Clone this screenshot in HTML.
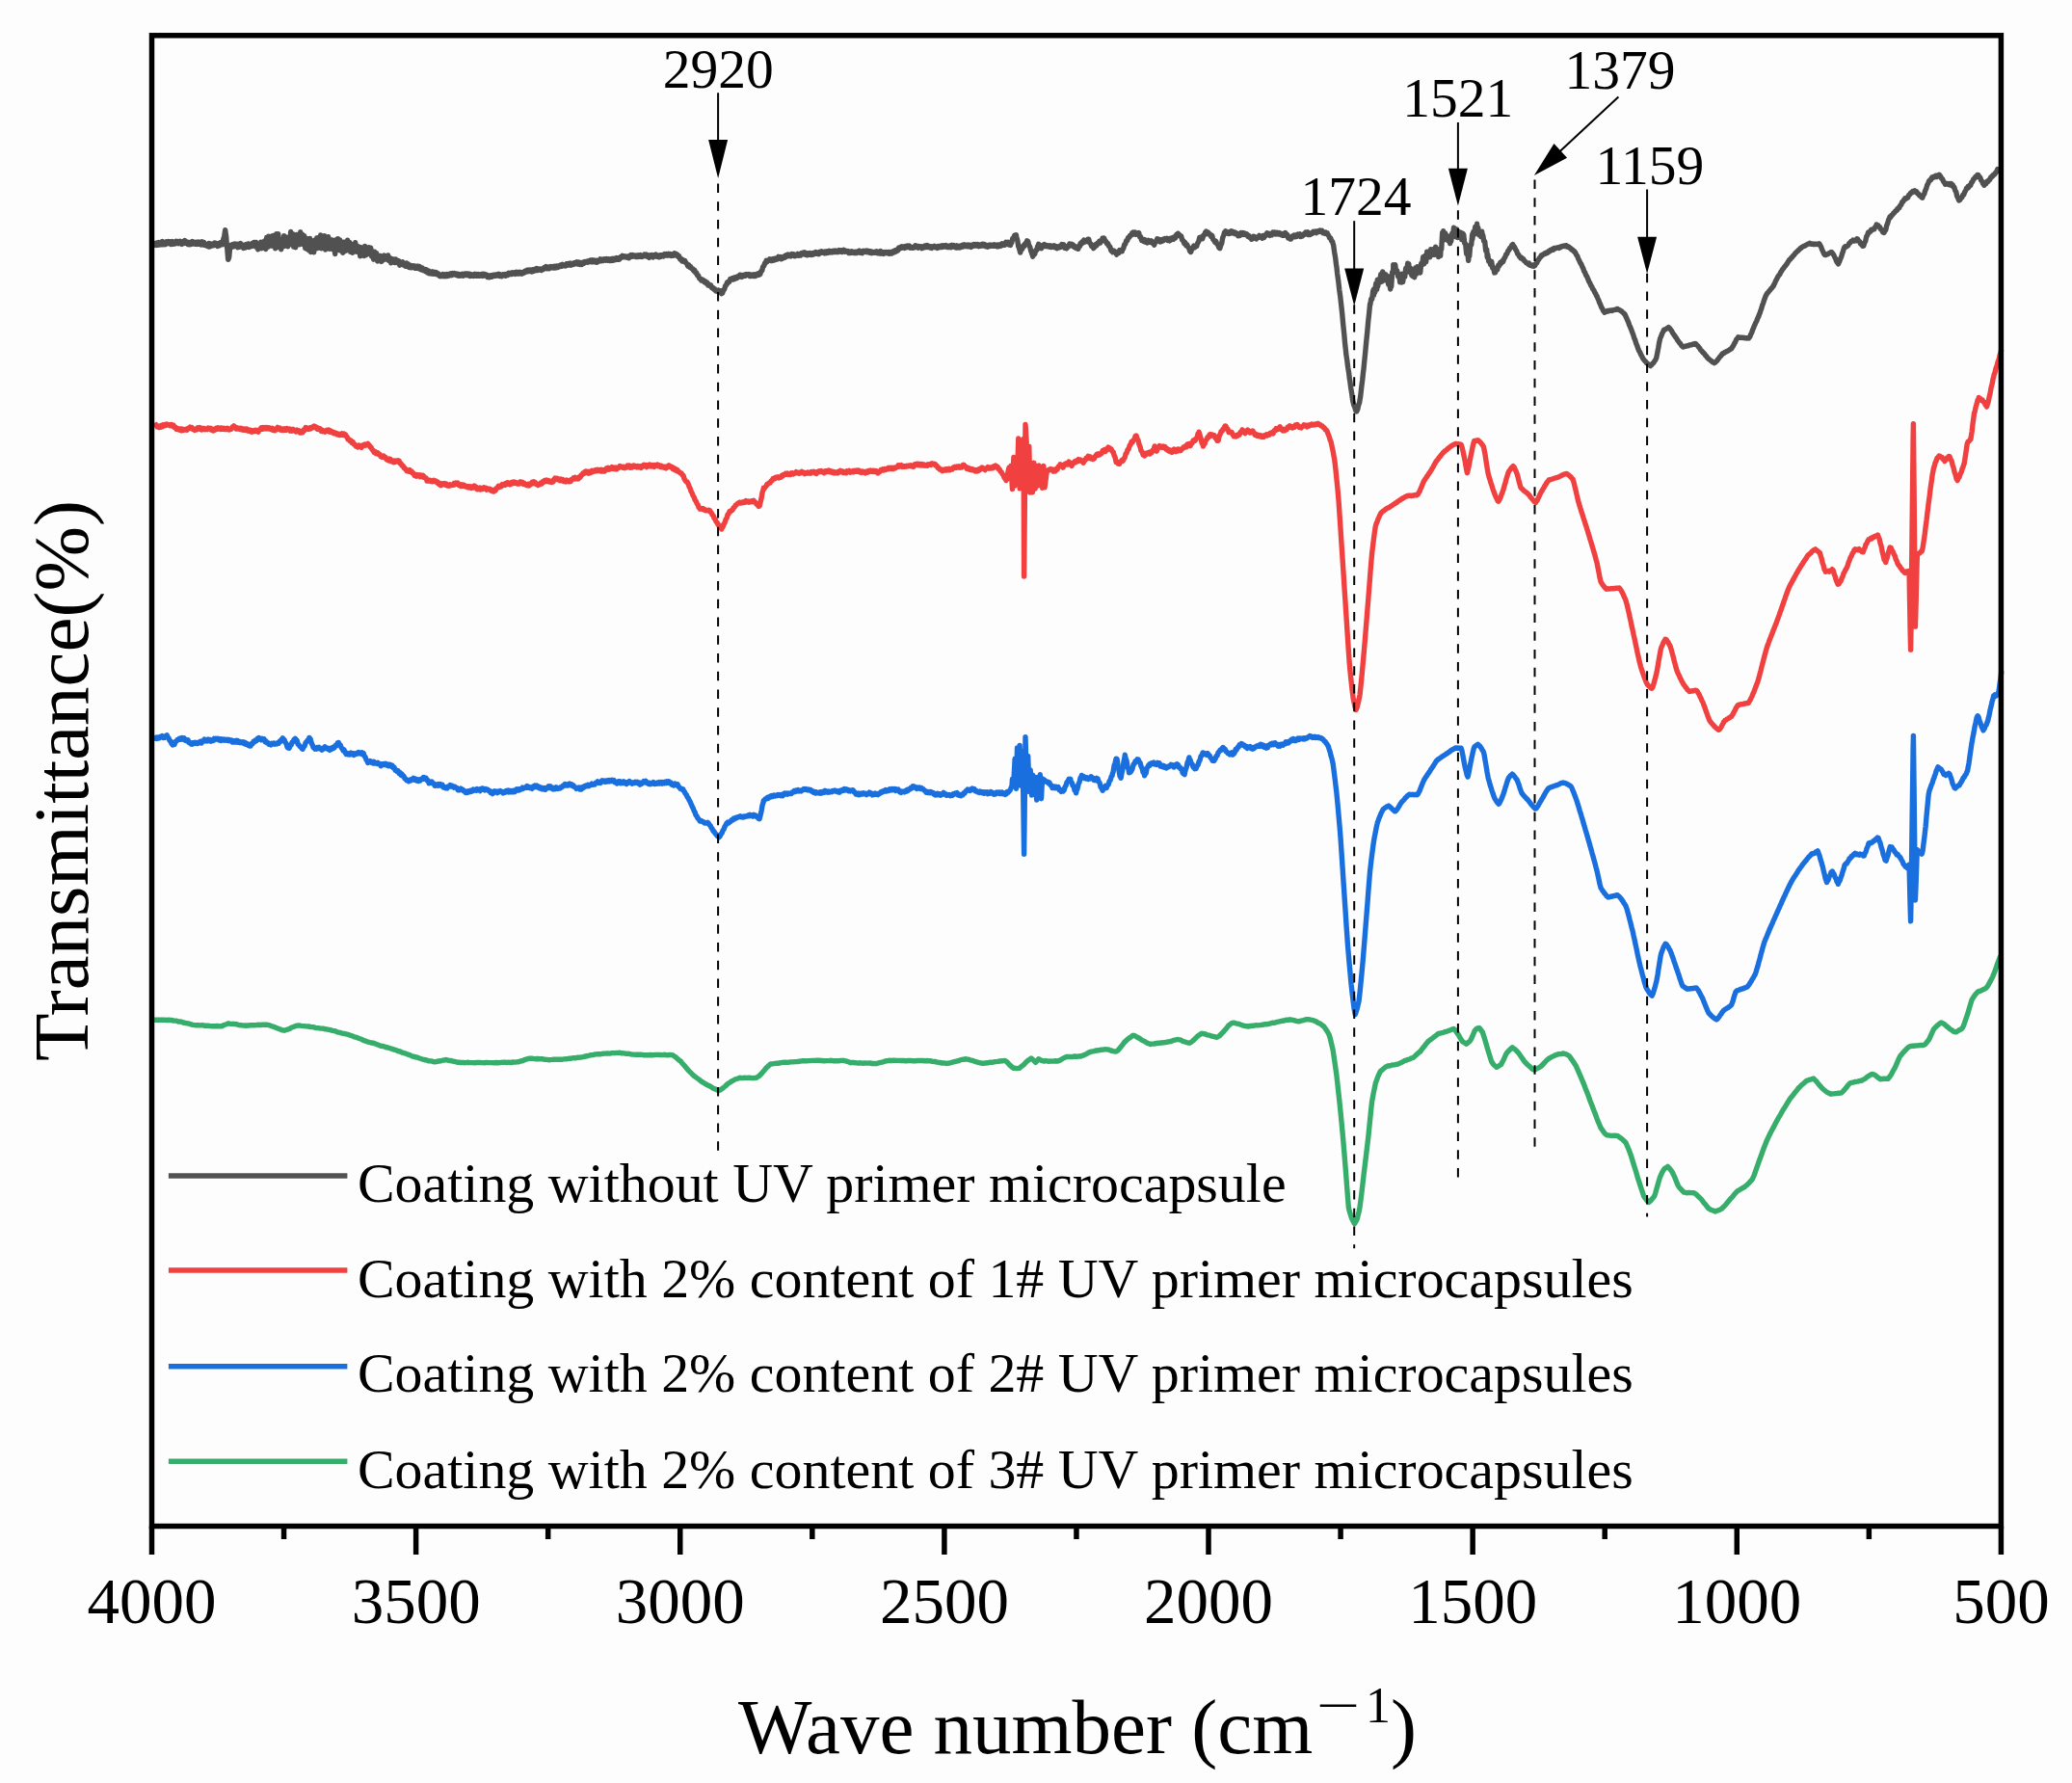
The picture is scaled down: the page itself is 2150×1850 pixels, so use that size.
<!DOCTYPE html>
<html lang="en"><head><meta charset="utf-8"><title>FTIR spectra</title>
<style>
html,body{margin:0;padding:0;background:#fdfdfd;}
body{width:2150px;height:1850px;overflow:hidden;}
svg{display:block;}
text{font-family:"Liberation Serif", "DejaVu Serif", serif;fill:#000;}
</style></head><body>
<svg width="2150" height="1850" viewBox="0 0 2150 1850">
<rect x="0" y="0" width="2150" height="1850" fill="#fdfdfd"/>

<polyline points="158.7,252.0 159.7,254.2 160.7,252.7 161.7,254.3 162.7,252.0 163.7,254.3 164.7,251.6 165.7,253.9 166.7,251.6 167.7,253.8 168.7,250.5 169.7,253.7 170.7,251.5 171.7,253.6 172.7,250.7 173.7,252.7 174.7,250.5 175.7,252.8 176.7,250.8 177.7,253.5 178.7,250.6 179.7,253.2 180.7,251.6 181.7,252.9 182.7,250.3 183.7,252.5 184.7,250.7 185.7,252.7 186.7,250.2 187.6,252.6 187.7,251.3 188.7,253.4 189.7,250.9 190.7,252.5 191.7,249.6 192.7,252.1 193.7,250.8 194.7,253.4 195.7,251.6 196.7,253.8 197.7,251.4 198.7,253.4 199.7,250.6 200.7,253.0 201.7,251.4 202.7,253.2 203.7,251.2 204.7,253.4 205.7,251.0 206.7,253.2 207.7,251.4 208.7,254.0 209.7,250.8 210.7,254.0 211.7,251.6 212.7,254.4 213.7,253.6 214.7,255.1 215.7,253.5 216.6,255.9 216.7,252.5 217.7,255.9 218.7,253.1 219.7,255.1 220.7,253.4 221.7,254.7 222.7,252.0 223.7,254.2 224.7,252.6 225.7,255.4 226.7,252.8 227.7,254.9 228.7,251.7 229.7,253.7 230.7,251.3 231.0,253.7 231.7,248.3 232.7,245.3 233.7,238.7 234.0,240.9 234.7,245.5 235.4,255.9 235.7,257.0 236.7,269.3 237.0,268.8 237.7,266.8 238.7,255.9 239.0,256.2 239.7,254.4 240.7,256.3 241.7,253.6 242.7,255.8 243.7,253.1 244.7,255.3 245.7,253.2 246.7,256.7 247.7,253.3 248.7,256.1 249.7,252.6 250.7,255.2 251.7,254.0 252.7,257.5 253.7,254.3 254.7,256.9 255.7,253.5 256.7,256.2 257.7,252.9 258.7,256.5 259.7,254.2 260.7,255.5 261.7,252.5 262.7,255.1 263.7,251.4 264.7,255.0 265.7,251.4 265.8,256.3 266.7,252.7 267.7,258.8 268.7,253.0 269.7,257.6 270.7,251.3 271.7,257.7 272.7,251.3 273.7,255.7 274.7,250.1 275.7,258.5 276.7,246.4 277.7,256.4 278.7,245.1 279.7,255.2 280.7,249.3 281.7,254.9 282.7,244.6 283.7,255.5 284.7,244.1 285.7,257.7 286.7,242.7 287.7,256.6 288.7,242.8 289.7,255.7 290.7,247.9 291.7,258.8 292.7,248.9 293.7,254.6 294.7,244.6 294.8,255.6 295.7,245.5 296.7,253.4 297.7,246.5 298.7,255.7 299.7,246.2 300.7,253.7 301.7,240.4 302.7,252.2 303.7,242.8 304.7,256.1 305.7,243.9 306.7,256.7 307.7,243.4 308.7,251.7 309.7,245.2 310.7,253.7 311.7,240.7 312.7,252.3 313.7,243.3 314.7,253.5 315.7,244.6 316.7,257.5 317.7,247.2 318.7,258.6 319.7,249.6 320.7,260.1 321.7,247.4 322.7,261.5 323.7,250.4 323.8,258.1 324.7,251.1 325.7,261.7 326.7,249.3 327.7,258.1 328.7,247.0 329.7,257.5 330.7,246.4 331.7,254.6 332.7,244.0 333.7,257.8 334.7,247.4 335.7,254.7 336.7,244.6 337.7,259.1 338.7,247.2 339.7,257.9 340.7,245.7 341.7,258.4 342.7,250.1 343.7,256.5 344.7,248.9 345.7,259.1 346.7,250.6 347.7,263.5 348.7,248.7 349.7,258.0 350.7,247.8 351.7,259.5 352.7,249.0 353.7,260.3 354.7,251.6 355.7,262.2 356.7,251.3 357.7,260.8 358.7,251.0 359.7,259.8 360.7,249.2 361.7,258.0 362.7,251.4 363.7,261.4 364.7,253.1 365.7,262.2 366.7,254.3 367.7,258.5 368.7,251.7 369.7,261.2 370.7,255.2 371.7,260.6 372.7,256.1 373.7,265.8 374.7,256.7 375.7,265.0 376.7,258.1 377.7,265.5 378.7,255.5 379.7,264.8 380.7,258.4 381.7,263.6 382.7,256.7 383.7,262.9 384.7,257.2 385.7,266.1 386.7,262.0 387.7,269.2 388.7,261.3 389.7,268.6 390.7,262.6 391.7,271.0 392.7,265.4 393.7,269.4 394.7,265.4 395.7,271.4 396.7,266.6 397.7,269.9 398.7,265.1 399.7,268.3 400.7,266.2 401.7,269.1 402.7,264.9 403.7,270.5 404.7,267.7 405.7,272.8 406.7,268.6 407.7,272.0 408.7,269.0 409.7,272.6 410.6,268.9 410.7,272.4 411.7,270.2 412.7,272.6 413.7,270.6 414.7,275.2 415.7,272.0 416.7,273.9 417.7,271.8 418.7,275.0 419.7,273.4 420.7,276.1 421.7,272.9 422.7,276.5 423.7,273.9 424.7,277.5 425.7,275.3 426.7,277.7 427.7,275.8 428.7,277.3 429.7,275.9 430.7,278.2 431.7,276.2 432.7,278.3 433.7,276.1 434.7,278.7 435.7,276.6 436.7,279.7 437.7,277.7 438.7,280.0 439.6,279.2 439.7,280.8 440.7,279.4 441.7,281.8 442.7,279.8 443.7,282.9 444.7,281.0 445.7,283.7 446.7,282.2 447.7,283.9 448.7,281.9 449.7,284.2 450.7,282.4 451.7,284.1 452.7,282.7 453.7,284.8 454.7,283.9 455.7,286.0 456.7,285.0 457.0,286.7 457.7,285.4 458.7,286.4 459.7,284.7 460.7,286.6 461.7,284.7 462.7,286.6 463.7,284.5 464.7,286.3 465.7,284.6 466.7,285.8 467.7,283.7 468.7,285.6 469.7,283.5 470.7,284.9 471.7,283.6 472.7,285.1 473.7,284.2 474.7,285.9 475.7,284.4 476.7,286.3 477.7,284.8 478.7,286.0 479.7,284.4 480.7,286.1 481.7,284.2 482.7,285.3 483.0,283.9 483.7,285.5 484.7,284.1 485.7,285.6 486.7,284.2 487.7,286.5 488.7,284.7 489.7,286.1 490.7,285.0 491.7,286.3 492.7,284.4 493.7,286.1 494.7,284.7 495.7,286.2 496.7,284.7 497.7,286.2 498.7,284.9 499.7,286.1 500.7,284.4 501.7,286.2 502.7,284.3 503.7,286.0 504.7,285.2 505.7,287.5 506.7,285.9 507.7,287.8 508.7,286.0 509.1,287.3 509.7,285.7 510.7,287.1 511.7,285.3 512.7,286.5 513.7,285.0 514.7,286.1 515.7,284.8 516.7,286.0 517.7,284.4 518.7,286.5 519.7,285.0 520.7,286.6 521.7,284.7 522.7,285.7 523.7,284.6 524.7,286.2 525.7,284.5 526.7,285.5 527.7,283.3 528.7,284.6 529.7,283.3 530.7,284.4 531.7,282.9 532.7,284.0 533.7,282.8 534.7,284.3 535.7,282.2 536.7,283.9 537.7,282.6 538.7,284.0 539.7,282.3 540.7,283.8 541.0,282.7 541.7,284.1 542.7,282.6 543.7,283.2 544.7,281.3 545.7,282.2 546.7,280.4 547.7,281.6 548.7,280.0 549.7,281.5 550.7,280.1 551.7,281.8 552.7,279.9 553.7,281.3 554.7,279.6 555.7,280.6 556.7,278.5 557.7,280.5 558.7,279.2 559.7,280.0 560.7,279.1 561.7,280.5 562.7,279.1 563.7,279.5 564.7,277.5 565.7,278.2 566.7,276.7 567.7,278.8 568.7,277.0 569.7,278.6 570.0,277.0 570.7,278.2 571.7,276.6 572.7,277.6 573.7,276.7 574.7,278.0 575.7,276.4 576.7,277.8 577.7,276.1 578.7,277.5 579.7,276.0 580.7,276.6 581.7,275.1 582.7,276.2 583.7,274.3 584.7,275.8 585.7,275.2 586.7,275.9 587.7,273.8 588.7,275.1 589.7,273.6 590.7,275.0 591.7,273.2 592.7,275.1 593.7,273.6 594.7,274.4 595.7,272.9 596.7,273.8 597.7,272.4 598.7,273.1 598.9,271.8 599.7,274.0 600.7,272.2 601.7,274.5 602.7,272.6 603.7,274.3 604.7,272.2 605.7,273.4 606.7,271.5 607.7,272.1 608.7,271.3 609.7,272.2 610.7,270.8 611.7,271.7 612.7,270.0 613.7,271.6 614.7,269.8 615.7,271.7 616.7,270.2 617.7,271.9 618.7,270.3 619.7,272.1 620.7,270.4 621.7,271.0 622.7,268.9 623.7,270.8 624.7,269.2 625.7,270.5 626.7,269.2 627.7,269.9 627.8,268.7 628.7,270.1 629.7,268.7 630.7,270.2 631.7,268.9 632.7,270.4 633.7,268.8 634.7,270.3 635.7,268.3 636.7,270.2 637.7,268.2 638.7,269.5 639.7,267.7 640.7,269.2 641.7,267.8 642.7,269.1 643.7,266.8 644.7,267.4 645.7,265.4 646.7,266.7 647.7,265.8 648.7,266.8 649.7,266.1 650.7,267.2 651.7,266.1 652.7,267.7 653.7,265.2 653.9,266.9 654.7,264.5 655.7,266.1 656.7,264.7 657.7,266.0 658.7,265.1 659.7,266.4 660.7,265.2 661.7,266.5 662.7,264.9 663.7,266.1 664.7,264.7 665.7,266.4 666.7,265.2 667.7,265.8 668.7,264.1 669.7,265.4 670.7,264.1 671.7,266.3 672.7,265.2 673.7,267.4 674.7,264.8 675.7,266.0 676.7,264.7 677.7,267.0 678.7,264.8 679.7,265.7 680.7,264.1 681.7,266.3 682.7,265.4 683.7,266.8 684.7,264.7 685.7,266.5 685.8,264.6 686.7,265.9 687.7,264.5 688.7,265.8 689.7,263.6 690.7,264.7 691.7,263.7 692.7,265.1 693.7,263.3 694.7,265.0 695.7,263.6 696.7,265.4 697.7,264.0 698.7,265.1 699.7,262.9 700.2,264.5 700.7,263.0 701.7,265.0 702.7,264.1 703.7,266.4 704.7,265.8 705.7,268.9 706.7,268.6 707.7,270.9 708.7,269.7 709.7,271.4 710.7,270.5 711.7,272.7 712.7,273.5 713.7,276.1 714.7,274.8 715.7,277.4 716.7,276.9 717.7,278.7 718.7,278.7 719.7,280.9 720.7,280.3 721.7,283.0 722.7,282.9 723.7,285.9 724.7,286.0 725.7,289.0 726.7,289.1 727.7,290.9 728.7,290.2 729.2,291.3 729.7,290.5 730.7,292.6 731.7,291.8 732.7,294.0 733.7,293.1 734.7,295.9 735.7,295.2 736.7,296.7 737.7,296.1 738.7,298.7 739.7,298.4 740.7,300.2 741.7,299.8 742.7,302.0 743.7,301.1 744.7,302.5 745.7,301.2 746.7,303.2 747.7,301.9 748.7,304.7 748.8,303.0 749.7,304.0 750.7,300.9 751.7,300.2 752.7,296.3 753.7,295.8 754.6,292.9 754.7,294.4 755.7,292.2 756.7,292.5 757.7,289.5 758.7,290.1 759.7,288.8 760.7,289.9 761.7,288.0 762.7,289.3 763.7,287.5 764.7,288.5 765.7,286.7 766.7,287.2 767.6,285.3 767.7,286.8 768.7,285.3 769.7,287.4 770.7,285.6 771.7,286.4 772.7,285.0 773.7,286.1 774.7,284.6 775.7,285.2 776.7,284.6 777.7,286.3 778.7,285.1 779.7,286.4 780.7,285.1 781.7,286.5 782.7,284.9 783.7,286.4 784.7,284.5 785.7,285.6 786.7,283.7 787.7,285.1 787.9,284.1 788.7,284.6 789.7,281.4 790.7,280.9 791.7,276.6 792.7,275.9 793.7,272.8 794.7,272.2 795.2,270.3 795.7,271.9 796.7,270.2 797.7,270.4 798.7,268.8 799.7,270.4 800.7,269.0 801.7,270.3 802.7,268.6 803.7,269.9 804.7,268.1 805.3,269.3 805.7,268.0 806.7,268.9 807.7,266.4 808.7,267.6 809.7,266.7 810.7,268.8 811.7,267.1 812.7,267.8 813.7,266.1 814.7,267.1 815.7,264.7 816.7,265.8 817.7,264.2 818.7,265.6 819.7,264.3 820.7,265.8 821.7,263.5 822.7,265.1 823.7,263.9 824.7,265.8 825.7,264.6 826.7,265.2 827.7,263.4 828.7,265.1 829.7,264.0 830.7,265.0 831.4,262.8 831.7,264.2 832.7,262.4 833.7,263.7 834.7,261.9 835.7,264.1 836.7,262.5 837.7,264.8 838.7,262.8 839.7,264.1 840.7,262.7 841.7,264.4 842.7,262.9 843.7,264.1 844.7,262.4 845.7,263.2 846.7,261.5 847.7,263.2 848.7,262.3 849.7,263.6 850.7,261.3 851.7,262.3 852.7,260.9 853.7,262.1 854.7,261.3 855.7,262.8 856.7,261.1 857.7,262.6 858.7,260.7 859.7,262.1 860.7,260.4 861.7,261.8 862.7,260.9 863.7,261.8 864.7,260.4 865.7,261.5 866.7,260.2 867.7,261.5 868.7,260.4 869.7,261.5 870.7,259.7 871.7,261.0 872.7,259.9 873.7,261.5 874.7,259.7 874.8,261.0 875.7,259.4 876.7,261.1 877.7,260.4 878.7,261.3 879.7,260.6 880.7,262.5 881.7,261.3 882.7,262.3 883.7,260.8 884.7,262.2 885.7,261.4 886.7,262.6 887.7,261.4 888.7,262.5 889.7,261.2 890.7,262.0 891.7,260.1 892.7,262.3 893.7,261.6 894.7,262.6 895.7,260.4 896.7,261.4 897.7,260.4 898.7,261.5 899.7,260.2 900.7,261.7 901.7,260.6 902.7,262.2 903.7,260.8 904.7,262.7 905.7,261.6 906.7,262.3 907.7,261.3 908.7,262.2 909.7,260.9 910.7,262.7 911.7,261.5 912.7,263.0 913.7,260.6 914.7,263.1 915.7,262.2 916.7,263.3 917.7,261.6 918.7,262.6 919.7,261.6 920.7,262.7 921.7,261.7 922.7,263.2 923.7,261.5 924.0,263.0 924.7,261.6 925.7,262.9 926.7,260.9 927.7,261.7 928.7,259.9 929.7,261.0 930.7,259.1 931.7,259.9 932.7,257.0 933.7,257.8 934.7,256.4 935.6,257.1 935.7,255.8 936.7,257.0 937.7,256.1 938.7,257.4 939.7,255.7 940.7,256.6 941.7,255.0 942.7,256.5 943.7,255.2 944.7,257.2 945.7,256.5 946.7,257.3 947.7,256.3 948.7,256.9 949.7,254.7 950.7,256.5 951.7,255.4 952.7,257.1 953.7,255.7 954.7,256.5 955.7,255.9 956.7,257.7 957.7,256.1 958.7,256.8 959.7,255.1 960.7,256.5 961.7,254.5 962.7,256.4 963.7,255.3 964.7,256.8 965.7,255.8 966.7,257.4 967.7,255.8 968.7,256.5 969.7,255.3 970.7,256.7 971.7,256.0 972.7,257.4 973.7,255.7 974.7,256.7 975.7,255.4 976.7,256.5 977.7,254.9 978.7,256.1 979.7,254.9 980.7,255.9 981.7,254.7 982.7,256.4 983.7,255.3 984.7,256.4 985.7,255.0 986.7,256.6 987.7,254.4 988.7,255.8 989.7,254.7 990.6,256.3 990.7,255.3 991.7,256.8 992.7,254.9 993.7,257.0 994.7,255.3 995.7,257.0 996.7,255.0 997.7,256.3 998.7,254.2 999.7,255.8 1000.7,253.8 1001.7,255.4 1002.7,254.4 1003.7,255.7 1004.7,254.2 1005.7,255.7 1006.7,254.3 1007.7,256.4 1008.7,254.2 1009.7,255.4 1010.7,253.7 1011.7,255.0 1012.7,253.5 1013.7,255.0 1014.7,253.6 1015.7,255.6 1016.7,254.2 1017.7,255.1 1018.7,253.7 1019.6,254.9 1019.7,253.3 1020.7,254.8 1021.7,253.7 1022.7,255.6 1023.7,254.5 1024.7,256.2 1025.7,254.4 1026.7,255.5 1027.7,254.0 1028.7,255.2 1029.7,254.3 1030.7,255.2 1031.7,253.8 1032.7,255.2 1033.7,254.4 1034.7,255.8 1035.7,254.1 1036.7,255.6 1037.7,254.0 1038.7,255.1 1039.7,252.8 1040.7,254.3 1041.7,253.3 1042.7,254.2 1043.7,251.4 1044.7,251.9 1045.7,251.3 1046.7,253.9 1047.7,253.2 1048.6,254.3 1048.7,252.6 1049.7,252.0 1050.7,247.5 1051.7,247.4 1052.7,244.3 1053.7,245.4 1054.4,243.8 1054.7,245.9 1055.7,249.0 1056.7,255.5 1057.7,258.0 1058.7,262.1 1059.7,258.6 1060.7,258.4 1061.7,254.9 1062.7,255.5 1063.7,252.8 1064.7,253.2 1065.7,249.8 1066.0,250.6 1066.7,250.4 1067.7,254.6 1068.7,256.0 1069.7,260.3 1070.7,262.9 1071.7,266.2 1072.7,263.1 1073.7,263.7 1074.7,259.7 1075.7,259.7 1076.7,255.3 1077.5,254.7 1077.7,253.1 1078.7,257.5 1079.7,256.7 1080.7,257.7 1081.7,254.6 1082.7,255.6 1083.7,253.6 1084.7,255.5 1085.7,254.5 1086.7,255.7 1087.7,254.9 1088.7,256.1 1089.7,254.9 1090.7,256.5 1091.7,255.3 1092.7,256.1 1093.7,254.9 1094.7,256.7 1095.7,255.5 1096.7,257.7 1097.7,256.1 1098.7,256.9 1099.7,255.3 1100.7,256.3 1101.7,253.6 1102.7,254.7 1103.7,253.8 1104.7,257.2 1105.7,256.7 1106.7,257.8 1107.7,255.5 1108.7,255.9 1109.7,253.1 1110.7,254.0 1111.7,253.4 1112.7,255.1 1113.7,254.1 1114.7,256.4 1115.7,255.9 1116.7,257.5 1117.7,256.4 1118.7,258.3 1119.7,255.3 1120.7,255.2 1121.0,252.6 1121.7,253.4 1122.7,251.1 1123.7,252.0 1124.7,249.0 1125.7,251.0 1126.7,249.9 1127.7,250.5 1128.7,248.3 1129.6,250.0 1129.7,248.1 1130.7,252.0 1131.7,252.8 1132.7,255.5 1133.7,255.3 1134.7,257.6 1135.4,255.8 1135.7,256.7 1136.7,253.7 1137.7,254.9 1138.7,252.4 1139.7,252.8 1140.7,250.4 1141.7,252.0 1142.7,249.4 1143.7,249.6 1144.0,247.3 1144.7,248.7 1145.7,247.2 1146.7,250.3 1147.7,250.4 1148.7,253.0 1149.7,252.8 1150.7,255.5 1151.7,255.8 1152.7,259.5 1153.7,260.8 1154.7,261.7 1155.7,260.1 1156.7,261.3 1157.7,261.2 1158.7,264.1 1159.7,262.2 1160.7,262.5 1161.7,259.6 1162.7,261.1 1163.7,259.2 1164.4,260.7 1164.7,258.7 1165.7,257.9 1166.7,253.8 1167.7,253.4 1168.7,249.8 1169.7,249.7 1170.7,246.4 1171.7,246.4 1172.7,244.1 1173.7,244.3 1174.7,241.7 1175.7,242.8 1176.0,241.1 1176.7,243.0 1177.7,241.0 1178.7,243.3 1179.7,241.8 1180.7,243.0 1181.7,241.7 1182.7,246.0 1183.7,245.8 1184.7,249.6 1185.7,248.3 1186.7,250.4 1187.7,248.6 1188.7,251.2 1189.7,250.0 1190.7,251.9 1191.7,249.4 1192.7,251.1 1193.4,250.4 1193.7,251.3 1194.7,249.9 1195.7,252.3 1196.7,251.3 1197.7,254.2 1198.7,251.0 1199.7,250.8 1200.7,247.9 1201.7,250.0 1202.7,248.3 1203.7,250.9 1204.7,249.2 1205.7,250.4 1206.7,248.2 1207.7,249.3 1208.7,247.5 1209.7,248.1 1210.7,247.3 1211.7,249.4 1212.7,247.9 1213.7,249.9 1214.7,247.4 1215.7,248.5 1216.7,246.7 1217.7,248.2 1218.7,245.8 1219.7,246.8 1220.7,243.6 1221.7,244.5 1222.3,242.2 1222.7,244.2 1223.7,243.5 1224.7,245.3 1225.7,245.1 1226.7,249.0 1227.7,249.4 1228.7,252.4 1229.7,251.6 1230.7,254.7 1231.7,253.9 1232.7,256.3 1233.7,257.4 1234.7,260.6 1235.4,260.7 1235.7,261.5 1236.7,258.0 1237.7,257.2 1238.7,255.0 1239.7,256.8 1240.7,255.4 1241.7,255.5 1242.7,252.3 1243.7,250.8 1244.7,246.5 1245.7,247.0 1246.7,245.9 1247.7,247.8 1248.7,244.2 1249.7,243.9 1250.7,241.0 1251.3,241.8 1251.7,240.1 1252.7,242.5 1253.7,241.1 1254.7,243.2 1255.7,243.0 1256.7,245.5 1257.7,244.4 1258.7,248.3 1259.7,249.3 1260.7,251.2 1261.7,250.4 1262.7,253.2 1263.7,253.4 1264.7,256.8 1265.7,255.8 1265.8,257.7 1266.7,254.7 1267.7,252.6 1268.7,246.7 1269.7,244.1 1270.7,240.9 1271.6,241.6 1271.7,239.7 1272.7,242.0 1273.7,241.1 1274.7,242.5 1275.7,240.7 1276.7,242.1 1277.7,239.8 1278.7,241.6 1279.7,240.6 1280.7,242.3 1281.7,241.2 1282.7,242.9 1283.7,242.3 1284.7,244.7 1285.7,243.0 1286.7,244.4 1287.7,241.6 1288.7,243.1 1289.7,241.6 1290.7,243.4 1291.7,242.2 1292.7,243.4 1293.7,242.9 1294.7,245.3 1295.7,244.3 1296.7,246.5 1297.7,246.0 1298.7,248.3 1299.7,245.8 1300.0,247.8 1300.7,245.2 1301.7,246.9 1302.7,246.1 1303.7,247.8 1304.7,246.6 1305.7,246.6 1306.7,244.4 1307.7,245.1 1308.7,245.1 1309.7,247.2 1310.7,244.6 1311.7,246.3 1312.7,244.1 1313.7,244.4 1314.7,241.7 1315.7,243.2 1316.7,242.3 1317.7,244.4 1318.7,242.9 1319.7,243.7 1320.7,241.1 1321.7,242.1 1322.7,241.1 1323.7,243.0 1324.7,241.3 1325.1,242.7 1325.7,241.5 1326.7,242.9 1327.7,241.7 1328.7,243.4 1329.7,242.6 1330.7,244.2 1331.7,242.7 1332.7,244.2 1333.7,241.5 1334.7,243.1 1335.7,243.3 1336.7,247.0 1337.7,246.0 1338.6,248.0 1338.7,246.3 1339.7,247.9 1340.7,245.2 1341.7,245.9 1342.7,244.0 1343.7,245.7 1344.7,244.0 1345.7,245.4 1346.7,243.0 1347.7,243.6 1348.7,242.8 1349.7,245.5 1350.7,244.1 1351.7,244.8 1352.7,243.0 1353.7,243.3 1354.7,241.0 1355.7,241.6 1356.7,240.8 1357.7,243.5 1358.7,242.0 1359.7,243.4 1360.7,241.8 1361.7,242.3 1362.7,240.3 1363.7,240.6 1364.7,240.0 1365.7,241.7 1366.7,240.3 1367.6,240.7 1367.7,239.7 1368.7,240.4 1369.7,239.1 1370.7,240.0 1371.7,239.3 1372.7,241.8 1373.7,240.8 1374.7,242.1 1375.7,241.1 1376.7,242.7 1377.2,241.7 1377.7,243.6 1378.7,244.4 1379.7,246.9 1380.7,247.2 1381.7,250.0 1382.7,250.7 1383.0,252.2 1383.7,254.6 1384.7,261.9 1385.7,267.6 1386.7,276.0 1386.9,276.6 1387.7,284.1 1388.7,291.3 1389.7,300.3 1390.7,307.3 1391.7,316.1 1392.7,325.4 1393.7,336.4 1394.7,346.0 1395.7,357.4 1396.5,364.1 1396.7,366.9 1397.7,373.4 1398.7,381.4 1399.7,387.3 1400.4,393.4 1400.7,394.7 1401.7,402.4 1402.7,408.7 1403.7,415.8 1404.2,417.9 1404.7,420.2 1405.7,422.3 1406.7,425.7 1407.7,426.9 1408.7,424.9 1409.7,420.3 1410.7,417.3 1411.0,415.3 1411.7,411.2 1412.7,402.2 1413.7,394.4 1414.7,384.9 1414.9,384.0 1415.7,375.5 1416.7,365.7 1417.7,354.7 1418.7,345.1 1419.7,333.7 1420.7,324.5 1421.6,315.3 1421.7,316.7 1422.7,310.3 1423.7,310.4 1424.7,301.7 1425.5,306.4 1425.7,300.0 1426.7,303.5 1427.7,294.2 1428.7,300.4 1429.3,290.2 1429.7,297.2 1430.7,290.6 1431.7,293.2 1432.7,284.8 1433.7,292.2 1434.7,281.9 1435.1,290.6 1435.7,283.5 1436.7,290.8 1437.7,284.6 1438.7,291.0 1439.7,286.5 1440.7,295.3 1441.7,291.5 1442.7,300.0 1442.9,293.4 1443.7,297.4 1444.7,282.1 1445.7,281.6 1445.8,274.8 1446.7,281.3 1447.7,274.6 1448.7,282.7 1449.7,280.9 1450.7,286.9 1451.7,284.4 1452.7,292.9 1453.7,285.5 1454.4,293.1 1454.7,284.1 1455.7,292.5 1456.7,284.2 1457.7,287.2 1458.7,278.5 1459.7,281.5 1460.7,273.2 1461.2,277.7 1461.7,273.6 1462.7,282.5 1463.7,278.4 1464.7,285.3 1465.1,280.2 1465.7,286.6 1466.7,280.0 1467.7,287.7 1468.7,278.0 1469.7,284.4 1470.7,276.6 1471.7,281.9 1472.7,277.4 1473.7,283.0 1474.7,273.4 1475.7,274.8 1476.7,266.6 1477.7,273.9 1478.7,265.5 1479.7,271.7 1480.7,261.1 1481.7,266.8 1482.7,261.2 1483.7,266.8 1484.7,258.6 1485.3,264.5 1485.7,259.6 1486.7,264.3 1487.7,258.5 1488.7,264.3 1489.7,256.2 1490.7,262.8 1491.7,258.7 1492.7,266.6 1493.7,260.9 1494.7,265.3 1495.0,257.9 1495.7,258.7 1496.7,241.1 1496.9,246.3 1497.7,239.7 1498.7,248.8 1499.7,242.0 1500.7,247.7 1501.7,244.5 1502.7,249.8 1503.7,246.2 1504.6,252.6 1504.7,248.0 1505.7,250.5 1506.7,242.2 1507.7,243.3 1508.5,236.2 1508.7,241.5 1509.7,237.3 1510.7,245.8 1511.7,238.0 1512.7,246.6 1513.7,240.5 1514.7,246.1 1515.7,241.2 1516.7,248.6 1517.7,242.2 1518.1,249.0 1518.7,243.2 1519.7,252.3 1520.7,253.1 1521.7,263.5 1522.7,260.5 1523.7,270.4 1523.9,266.9 1524.7,265.9 1525.7,254.1 1526.7,254.1 1527.7,243.3 1527.8,248.5 1528.7,240.8 1529.7,243.4 1530.7,235.5 1531.7,239.7 1532.6,232.3 1532.7,239.8 1533.7,236.2 1534.7,243.8 1535.7,240.0 1536.7,245.4 1537.7,240.2 1538.4,246.4 1538.7,243.8 1539.7,250.2 1540.7,250.5 1541.7,260.1 1542.7,258.8 1543.2,266.8 1543.7,263.9 1544.7,271.0 1545.7,270.3 1546.7,274.5 1547.7,271.4 1548.7,278.2 1549.7,277.7 1550.7,282.9 1551.0,279.8 1551.7,282.8 1552.7,278.0 1553.7,279.9 1554.7,275.3 1555.7,275.8 1556.7,272.6 1557.7,273.3 1558.7,270.7 1559.7,271.4 1560.7,268.3 1561.7,267.1 1562.7,264.1 1563.7,263.5 1564.7,260.5 1565.7,259.6 1566.7,257.4 1567.7,257.1 1568.7,254.4 1569.3,254.3 1569.7,253.5 1570.7,255.4 1571.7,256.5 1572.7,259.0 1573.7,260.4 1574.7,263.3 1575.7,264.1 1576.7,266.4 1577.7,266.9 1578.0,267.8 1578.7,267.1 1579.7,268.9 1580.7,268.8 1581.7,270.8 1582.7,271.2 1583.7,272.7 1584.7,273.1 1585.7,274.1 1586.7,273.2 1587.7,275.2 1588.7,275.0 1589.7,275.9 1590.7,275.0 1591.5,276.2 1591.7,275.5 1592.7,275.6 1593.7,273.5 1594.7,272.8 1595.7,270.1 1596.7,269.2 1597.7,267.2 1598.7,266.6 1599.2,265.1 1599.7,265.5 1600.7,264.1 1601.7,264.3 1602.7,262.9 1603.7,263.3 1604.7,262.0 1605.7,262.5 1606.7,260.8 1607.7,261.0 1608.7,259.4 1609.7,259.7 1610.7,258.5 1611.7,259.2 1612.7,257.6 1613.7,258.0 1614.7,257.1 1615.7,257.3 1616.7,256.7 1617.7,257.4 1618.7,256.3 1619.7,256.5 1620.7,255.4 1621.7,255.6 1622.7,254.9 1623.7,255.6 1624.7,254.8 1625.3,255.6 1625.7,254.8 1626.7,256.3 1627.7,255.9 1628.7,257.2 1629.7,257.4 1630.7,259.0 1631.7,259.0 1632.7,260.4 1633.7,260.7 1634.0,261.7 1634.7,262.1 1635.7,264.5 1636.7,265.6 1637.7,268.4 1638.7,270.3 1639.7,272.7 1640.7,274.0 1641.7,276.4 1642.7,278.3 1643.7,281.4 1644.7,282.8 1645.7,285.7 1646.7,286.8 1647.5,289.3 1647.7,289.3 1648.7,292.0 1649.7,293.5 1650.7,296.0 1651.7,297.3 1652.7,299.9 1653.7,300.9 1654.7,303.3 1655.7,304.8 1656.7,307.2 1657.1,307.4 1657.7,309.1 1658.7,311.1 1659.7,314.1 1660.7,316.0 1661.7,318.9 1662.7,320.2 1663.7,322.6 1664.7,323.6 1664.9,324.3 1665.7,323.6 1666.7,323.5 1667.7,322.6 1668.7,323.0 1669.7,322.2 1670.7,322.5 1671.7,321.9 1672.7,322.5 1673.7,321.7 1674.7,321.8 1675.7,321.2 1676.7,321.4 1677.7,320.5 1678.4,320.9 1678.7,320.6 1679.7,321.6 1680.7,321.7 1681.7,322.7 1682.7,322.9 1683.7,324.1 1684.7,324.7 1685.7,326.1 1685.9,325.8 1686.7,327.7 1687.7,329.7 1688.7,332.3 1689.7,334.3 1690.7,337.4 1691.7,339.3 1691.9,340.3 1692.7,341.8 1693.7,344.8 1694.7,347.3 1695.7,350.6 1696.7,352.9 1697.7,356.2 1698.7,358.6 1699.7,361.7 1699.8,361.7 1700.7,364.1 1701.7,365.6 1702.7,368.0 1703.7,369.6 1704.7,371.8 1705.7,373.1 1706.7,374.5 1707.7,375.2 1708.7,376.8 1709.7,377.4 1710.7,378.7 1711.7,378.9 1712.6,379.6 1712.7,379.2 1713.7,378.7 1714.7,377.2 1715.7,376.5 1716.7,374.9 1717.7,373.6 1718.6,371.6 1718.7,371.5 1719.7,366.4 1720.7,361.3 1721.7,355.3 1722.5,351.9 1722.7,351.0 1723.7,348.8 1724.7,346.0 1725.7,344.2 1726.5,342.4 1726.7,342.7 1727.7,341.8 1728.7,341.5 1729.7,340.7 1730.7,340.4 1731.4,339.6 1731.7,340.2 1732.7,340.7 1733.7,342.3 1734.7,343.5 1735.7,345.7 1736.7,346.8 1737.4,348.1 1737.7,348.1 1738.7,349.9 1739.7,351.0 1740.7,353.1 1741.7,354.3 1742.7,355.9 1743.7,356.7 1744.7,358.5 1745.7,359.2 1746.3,360.0 1746.7,359.6 1747.7,359.7 1748.7,359.1 1749.7,359.3 1750.7,358.7 1751.7,358.8 1752.7,358.0 1753.7,358.1 1754.7,357.6 1755.7,357.7 1756.7,356.9 1757.7,357.2 1758.7,356.5 1759.1,356.8 1759.7,356.8 1760.7,358.0 1761.7,358.8 1762.7,360.3 1763.7,361.4 1764.7,363.2 1765.7,363.9 1766.7,365.4 1767.1,365.4 1767.7,366.4 1768.7,367.2 1769.7,368.9 1770.7,369.7 1771.7,371.3 1772.7,372.0 1773.0,372.7 1773.7,372.8 1774.7,373.8 1775.7,374.4 1776.7,375.6 1777.7,375.9 1778.7,376.6 1778.9,376.4 1779.7,376.2 1780.7,375.0 1781.7,374.3 1782.7,372.7 1783.7,371.7 1784.7,370.0 1785.7,369.3 1786.7,367.6 1786.9,367.7 1787.7,366.7 1788.7,366.5 1789.7,365.5 1790.7,365.4 1791.7,364.4 1792.7,364.3 1793.7,363.4 1794.7,363.0 1795.7,362.1 1796.7,361.8 1797.7,359.8 1798.7,358.5 1799.7,356.3 1800.7,354.7 1801.7,352.3 1802.7,351.2 1803.7,349.7 1804.7,350.3 1805.7,350.1 1806.7,350.5 1807.7,350.2 1808.7,350.5 1809.7,350.3 1810.7,350.9 1811.7,350.6 1812.7,351.0 1813.7,350.7 1814.6,351.0 1814.7,350.6 1815.7,349.4 1816.7,346.9 1817.7,345.0 1818.7,342.1 1819.7,339.9 1820.5,337.5 1820.7,337.5 1821.7,335.0 1822.7,333.2 1823.7,330.5 1824.7,328.6 1825.7,325.7 1826.4,324.3 1826.7,322.9 1827.7,320.3 1828.7,316.7 1829.7,314.1 1830.7,310.9 1831.7,308.5 1832.4,306.4 1832.7,306.3 1833.7,304.3 1834.7,303.4 1835.7,302.0 1836.7,301.1 1837.7,299.5 1838.7,298.7 1839.7,297.1 1840.3,296.6 1840.7,295.4 1841.7,293.6 1842.7,291.1 1843.7,289.5 1844.7,287.2 1845.2,286.9 1845.7,285.6 1846.7,284.8 1847.7,282.5 1848.7,281.2 1849.7,279.3 1850.7,278.3 1851.7,276.7 1852.7,275.8 1853.7,274.2 1854.7,273.0 1855.7,271.1 1856.1,270.8 1856.7,269.5 1857.7,268.9 1858.7,267.4 1859.7,266.7 1860.7,265.2 1861.7,264.5 1862.7,262.8 1863.7,262.1 1864.7,260.7 1865.7,260.3 1866.7,259.0 1867.7,258.4 1868.0,257.6 1868.7,257.5 1869.7,256.5 1870.7,256.1 1871.7,255.2 1872.7,255.2 1873.7,254.4 1874.7,254.1 1875.7,253.2 1876.7,253.1 1877.7,252.4 1877.9,253.0 1878.7,252.8 1879.7,253.3 1880.7,253.0 1881.7,253.5 1882.7,253.1 1883.7,253.5 1884.7,253.2 1885.7,253.6 1886.7,252.9 1887.7,253.2 1887.8,252.8 1888.7,254.4 1889.7,256.3 1890.7,259.2 1891.7,261.1 1892.7,263.5 1893.7,264.5 1894.7,264.6 1895.7,263.7 1896.7,263.7 1897.7,262.8 1898.7,262.5 1899.7,261.7 1900.6,261.8 1900.7,261.6 1901.7,263.2 1902.7,264.5 1903.7,266.7 1904.7,268.5 1905.7,271.2 1906.7,272.6 1907.6,273.9 1907.7,273.2 1908.7,271.5 1909.7,268.5 1910.7,266.4 1911.7,262.8 1912.7,260.0 1913.5,257.1 1913.7,257.3 1914.7,255.7 1915.7,256.1 1916.7,255.4 1917.7,254.7 1918.7,252.5 1919.7,251.9 1920.7,250.4 1921.7,250.4 1922.7,249.1 1923.7,250.0 1924.7,249.3 1925.7,249.7 1926.7,247.8 1927.3,248.5 1927.7,248.1 1928.7,250.2 1929.7,250.7 1930.7,253.1 1931.7,252.8 1932.7,255.2 1933.3,254.4 1933.7,255.2 1934.7,252.0 1935.7,250.2 1936.7,245.4 1937.7,243.9 1938.7,240.9 1939.2,241.6 1939.7,240.4 1940.7,240.4 1941.7,238.2 1942.7,238.7 1943.7,237.7 1944.7,237.9 1945.7,235.5 1946.7,234.7 1947.1,233.0 1947.7,234.1 1948.7,233.7 1949.7,235.4 1950.7,235.8 1951.7,238.1 1952.7,238.5 1953.7,240.8 1954.7,240.0 1955.0,241.4 1955.7,239.7 1956.7,238.8 1957.7,234.0 1958.7,231.6 1959.7,227.9 1960.7,226.3 1961.0,224.9 1961.7,225.5 1962.7,223.4 1963.7,223.1 1964.7,221.2 1965.7,220.9 1966.7,218.9 1967.7,218.8 1968.7,216.8 1968.9,217.5 1969.7,215.8 1970.7,215.7 1971.7,213.3 1972.7,212.7 1973.7,209.6 1974.7,209.2 1975.7,207.2 1976.7,206.9 1976.8,205.8 1977.7,206.1 1978.7,205.0 1979.7,205.2 1980.7,202.4 1981.7,201.9 1982.7,199.9 1983.7,200.0 1984.7,198.4 1985.7,198.5 1986.7,197.8 1987.7,199.5 1988.7,198.8 1989.7,200.8 1990.7,201.1 1991.7,202.9 1992.7,203.0 1993.7,204.6 1994.6,204.2 1994.7,205.2 1995.7,202.5 1996.7,201.2 1997.7,197.7 1998.7,195.8 1999.7,192.1 2000.7,190.3 2001.7,187.7 2002.5,187.4 2002.7,186.6 2003.7,186.5 2004.7,184.0 2005.7,184.5 2006.7,183.2 2007.7,183.6 2008.7,182.3 2009.7,183.4 2010.7,182.0 2011.7,182.6 2012.4,181.4 2012.7,182.9 2013.7,183.0 2014.7,185.4 2015.7,185.9 2016.7,188.6 2017.7,189.5 2018.4,191.2 2018.7,190.2 2019.7,191.0 2020.7,190.4 2021.7,191.4 2022.7,190.5 2023.7,191.8 2024.7,190.6 2025.7,192.6 2026.3,191.8 2026.7,193.7 2027.7,194.1 2028.7,197.4 2029.7,198.9 2030.7,203.6 2031.7,205.5 2032.7,208.0 2033.2,207.2 2033.7,207.4 2034.7,205.6 2035.7,204.9 2036.7,202.4 2037.7,202.1 2038.7,199.2 2039.7,197.6 2040.7,194.9 2041.7,195.2 2042.1,193.6 2042.7,194.5 2043.7,192.3 2044.7,192.3 2045.7,189.3 2046.7,188.7 2047.7,185.9 2048.7,185.2 2049.7,183.5 2050.7,183.8 2051.7,181.6 2052.0,182.2 2052.7,181.6 2053.7,183.4 2054.7,184.0 2055.7,187.1 2056.7,188.1 2057.7,190.7 2058.7,190.9 2058.9,192.3 2059.7,190.3 2060.7,190.6 2061.7,188.2 2062.7,188.6 2063.7,186.8 2064.7,186.5 2065.7,184.0 2066.7,183.8 2067.7,181.9 2067.8,182.9 2068.7,181.1 2069.7,180.9 2070.7,179.1 2071.7,178.3 2072.7,175.6 2073.7,176.2 2074.7,175.4 2075.7,176.0 2075.8,175.1" fill="none" stroke="#515151" stroke-width="5.4" stroke-linejoin="round" stroke-linecap="butt"/>
<polyline points="160.1,438.9 161.1,440.7 162.1,440.7 163.1,443.0 164.1,443.0 165.1,443.5 166.1,442.0 167.1,443.2 167.4,441.6 168.1,442.9 169.1,440.9 170.1,441.9 171.1,440.5 172.1,441.4 173.1,440.0 174.1,440.9 175.1,440.7 176.1,441.6 177.1,440.5 177.5,441.1 178.1,440.7 179.1,442.1 180.1,441.4 181.1,443.5 182.1,443.2 183.1,445.4 183.3,444.2 184.1,445.3 185.1,444.7 186.1,446.0 187.1,445.2 188.1,446.7 189.1,445.2 190.1,446.4 191.1,445.5 192.1,446.1 193.1,445.2 194.1,446.1 195.1,444.5 196.1,444.3 197.1,443.2 198.1,444.4 199.1,443.7 200.1,445.5 201.1,445.0 202.1,446.3 203.1,445.3 204.1,445.8 205.1,443.7 206.1,444.4 207.1,443.5 207.9,445.4 208.1,444.2 209.1,445.9 210.1,444.3 211.1,445.5 212.1,444.5 213.1,445.7 214.1,445.1 215.1,445.6 216.1,444.0 217.1,444.6 218.1,444.2 219.1,446.0 220.1,445.1 221.1,446.8 222.1,445.6 223.1,446.2 224.1,444.4 225.1,445.2 226.1,443.8 227.1,444.9 228.1,444.1 229.1,445.4 230.1,444.1 231.1,445.2 232.1,444.3 233.1,445.4 234.1,444.5 235.1,445.4 236.1,444.3 236.9,445.7 237.1,444.8 238.1,445.9 239.1,445.1 240.1,445.2 241.1,443.0 242.1,442.9 242.7,441.8 243.1,443.2 244.1,443.1 245.1,445.0 246.1,443.8 247.1,444.9 248.1,444.3 249.1,445.4 250.1,444.3 251.1,445.9 252.1,445.1 253.1,446.2 254.1,445.1 255.1,446.1 256.1,445.1 257.1,446.9 258.1,446.0 259.1,447.5 260.1,446.4 261.1,448.1 262.1,446.8 263.1,447.6 264.1,446.5 265.1,447.5 265.8,446.3 266.1,447.6 267.1,446.8 268.1,448.1 269.1,445.6 270.1,445.6 271.1,443.7 272.1,445.2 273.1,443.6 274.1,444.8 275.1,443.7 276.1,444.9 277.1,443.7 278.1,444.8 279.1,443.9 280.1,445.1 280.3,444.1 281.1,445.4 282.1,444.4 283.1,446.3 284.1,445.1 285.1,446.7 286.1,445.4 287.1,445.8 288.1,443.4 289.1,444.8 290.1,444.1 291.1,446.1 292.1,445.1 293.1,446.4 294.1,445.1 295.1,446.3 296.1,444.8 297.1,446.2 298.1,444.7 299.1,445.7 300.1,445.1 301.1,447.1 302.1,445.6 303.1,447.1 304.1,445.3 305.1,446.9 306.1,446.6 307.1,447.9 308.1,446.1 309.1,447.6 310.1,446.8 311.1,448.9 312.1,447.8 312.2,449.1 313.1,447.5 314.1,448.7 315.1,446.1 316.1,446.4 317.1,443.6 318.1,444.7 319.1,444.2 320.1,445.4 321.1,444.1 322.1,445.0 322.3,443.6 323.1,444.4 324.1,443.1 325.1,443.5 326.1,442.2 327.1,443.5 328.1,443.1 329.1,445.2 330.1,444.2 331.1,445.4 332.1,444.8 333.1,447.1 334.1,446.2 335.1,447.7 336.1,447.2 337.1,448.1 338.1,446.8 338.2,447.3 339.1,446.3 340.1,447.3 341.1,446.2 342.1,448.1 343.1,447.2 344.1,448.5 345.1,448.1 346.1,449.6 347.1,448.8 348.1,450.1 349.1,449.6 350.1,451.0 351.1,450.4 352.1,451.5 353.1,450.3 354.1,451.2 355.1,449.8 356.1,451.3 357.1,450.2 358.1,451.9 358.5,450.7 359.1,452.6 360.1,453.2 361.1,456.0 362.1,456.0 363.1,457.5 364.1,457.0 365.1,459.3 366.1,458.5 367.1,460.8 368.1,461.1 369.1,463.0 370.1,462.8 371.1,463.9 372.1,462.0 373.1,463.5 374.1,462.5 375.1,464.3 376.1,462.1 377.1,461.8 378.1,461.1 379.1,462.3 380.1,461.0 381.1,461.7 381.7,460.2 382.1,461.8 383.1,461.6 384.1,464.0 385.1,464.0 386.1,466.5 387.1,467.3 388.1,469.3 389.1,468.5 390.1,470.5 390.4,469.3 391.1,470.8 392.1,469.9 393.1,471.6 394.1,471.4 395.1,473.7 396.1,474.3 397.1,474.4 398.1,473.0 399.1,474.4 400.1,474.5 401.1,476.8 402.1,477.2 403.1,477.9 404.1,476.1 404.9,477.4 405.1,476.4 406.1,478.8 407.1,478.9 408.1,479.6 409.1,478.2 410.1,479.4 411.1,478.1 412.1,478.9 413.1,477.8 413.5,479.2 414.1,478.1 415.1,480.8 416.1,481.0 417.1,483.1 418.1,483.1 419.1,485.6 420.1,485.6 421.1,487.4 422.1,487.8 422.2,488.8 423.1,488.4 424.1,489.2 425.1,487.6 426.1,489.7 427.1,489.0 428.1,490.9 429.1,491.0 430.1,493.4 431.1,492.9 432.1,494.2 433.1,492.5 434.1,493.7 435.1,492.8 436.1,494.6 437.1,493.1 438.1,494.5 439.1,493.4 439.6,495.3 440.1,494.5 441.1,495.9 442.1,496.0 443.1,499.1 444.1,497.8 445.1,498.9 446.1,498.2 447.1,499.4 448.1,498.8 449.1,499.7 450.1,498.3 451.1,499.2 452.1,499.0 453.1,500.7 454.1,500.0 455.1,502.1 456.1,501.4 457.0,503.6 457.1,502.5 458.1,503.4 459.1,501.9 460.1,502.4 461.1,501.5 462.1,503.2 463.1,502.1 464.1,503.8 465.1,503.1 466.1,504.1 467.1,502.9 468.1,503.6 469.1,502.9 470.1,503.3 471.1,501.6 472.1,502.8 473.1,501.1 474.1,502.1 475.1,501.2 476.1,503.5 477.1,503.1 478.1,504.4 479.1,502.9 480.1,504.3 481.1,503.1 482.1,504.5 483.0,504.0 483.1,505.1 484.1,504.5 485.1,505.6 486.1,504.7 487.1,505.9 488.1,504.9 489.1,506.3 490.1,505.2 491.1,506.0 492.1,504.0 493.1,505.7 494.1,505.2 495.1,507.7 496.1,506.4 497.1,507.6 498.1,506.0 499.1,507.9 500.1,507.1 501.1,507.5 502.1,505.8 503.1,506.2 504.1,506.3 505.1,508.2 506.1,507.0 507.1,507.4 508.1,507.3 509.1,508.9 510.1,508.3 511.1,509.7 512.0,508.5 512.1,510.1 513.1,508.3 514.1,509.0 515.1,506.4 516.1,506.4 517.1,504.4 518.1,505.5 519.1,504.1 520.1,504.8 521.1,502.6 522.1,503.5 523.1,502.4 524.1,503.2 525.1,501.3 526.1,502.1 526.5,500.7 527.1,502.2 528.1,501.7 529.1,502.8 530.1,500.9 531.1,501.9 532.1,500.1 533.1,501.4 534.1,500.1 535.1,501.5 536.1,501.0 537.1,502.0 538.1,500.9 539.1,501.8 540.1,499.8 541.1,501.4 542.1,500.3 543.1,502.3 544.1,501.3 545.1,503.0 546.1,502.5 547.1,503.7 548.1,502.4 549.1,503.8 550.1,502.1 551.1,502.4 552.1,500.2 553.1,501.4 554.1,499.8 555.1,501.6 555.4,500.6 556.1,502.3 557.1,502.4 558.1,503.5 559.1,502.3 560.1,502.7 561.1,501.0 562.1,501.9 563.1,499.7 564.1,500.3 565.1,498.6 566.1,499.5 567.1,498.2 568.1,499.4 569.1,498.5 570.1,500.0 571.1,499.7 572.1,500.4 573.1,498.9 574.1,499.8 575.1,497.1 575.7,497.7 576.1,496.1 577.1,497.2 578.1,496.3 579.1,497.8 580.1,497.3 581.1,498.6 582.1,497.2 583.1,498.6 584.1,497.6 585.1,499.5 586.1,498.9 587.1,499.8 588.1,498.2 589.1,499.2 590.1,498.5 590.2,499.8 591.1,499.1 592.1,499.5 593.1,497.5 594.1,497.6 595.1,495.7 596.1,496.9 597.1,495.4 598.1,496.7 599.1,495.8 600.1,497.0 601.1,494.7 602.1,495.1 603.1,492.8 604.1,492.8 605.1,490.8 606.1,491.3 607.1,489.3 607.6,490.3 608.1,489.0 609.1,490.3 610.1,489.3 611.1,491.2 612.1,489.6 613.1,490.5 614.1,488.4 615.1,489.5 616.1,488.3 617.1,488.9 618.1,487.7 619.1,488.6 620.1,487.4 621.1,488.5 622.1,487.7 623.1,488.8 624.1,487.4 625.1,488.9 626.1,487.8 627.1,488.9 627.8,487.3 628.1,488.4 629.1,486.1 630.1,486.8 631.1,485.4 632.1,487.2 633.1,485.7 634.1,486.3 635.1,484.6 636.1,486.3 637.1,485.4 638.1,486.6 639.1,485.1 640.1,486.7 641.1,485.5 642.1,485.5 643.1,483.5 644.1,484.4 645.1,484.1 646.1,485.2 647.1,484.4 648.1,485.6 649.1,484.8 650.1,485.1 651.1,483.0 652.1,483.3 653.1,483.0 654.1,485.3 655.1,483.9 656.1,484.9 656.8,483.3 657.1,484.5 658.1,483.0 659.1,484.2 660.1,483.7 661.1,484.9 662.1,483.5 663.1,484.7 664.1,483.8 665.1,485.5 666.1,483.6 667.1,484.2 668.1,482.2 669.1,483.3 670.1,482.7 671.1,484.6 672.1,483.0 673.1,483.5 674.1,482.0 675.1,483.8 676.1,482.7 677.1,484.0 678.1,482.7 679.1,484.3 680.1,482.5 681.1,482.9 682.1,482.1 683.1,483.7 684.1,482.9 685.1,484.3 686.1,483.4 687.1,484.7 688.1,484.0 689.1,485.1 690.1,484.4 691.1,485.8 692.1,484.0 693.1,484.6 694.1,482.8 694.4,484.1 695.1,483.5 696.1,484.8 697.1,484.5 698.1,486.4 699.1,485.6 700.1,487.6 701.1,486.6 702.1,488.5 703.1,487.9 704.1,489.8 705.1,489.8 706.1,491.0 707.1,490.9 708.1,492.9 709.1,493.4 710.1,496.9 711.1,498.5 712.1,499.9 713.1,499.9 713.3,500.8 714.1,502.0 715.1,504.9 716.1,506.7 717.1,509.8 718.1,511.5 719.1,514.3 720.1,515.7 721.1,518.7 722.1,519.8 723.1,522.4 724.1,523.6 725.1,526.5 726.1,527.3 726.3,528.2 727.1,527.6 728.1,528.2 729.1,527.6 730.1,528.8 731.1,528.5 732.1,529.8 733.1,529.5 734.1,529.9 735.1,529.2 736.1,530.0 736.4,529.5 737.1,531.1 738.1,531.9 739.1,534.1 740.1,535.0 741.1,537.8 742.1,538.7 743.1,541.4 744.1,542.1 745.1,544.5 746.1,545.0 747.1,547.4 748.1,547.7 748.8,549.0 749.1,547.6 750.1,546.6 751.1,543.8 752.1,542.2 753.1,538.9 754.1,537.5 755.1,534.0 756.1,533.0 757.1,530.5 758.1,530.6 759.1,529.5 760.1,529.3 761.1,526.9 762.1,526.4 763.1,524.3 764.1,523.9 765.1,522.5 766.1,522.2 767.1,521.4 767.6,522.0 768.1,521.3 769.1,522.0 770.1,521.1 771.1,521.6 772.1,520.6 773.1,521.2 774.1,519.7 775.1,520.7 776.1,520.0 777.1,521.2 778.1,520.2 779.1,520.7 780.1,519.7 781.1,520.5 782.1,519.3 783.1,521.2 784.1,521.4 785.1,523.3 786.1,523.7 787.1,525.3 787.9,524.6 788.1,525.0 789.1,520.8 790.1,516.7 791.1,510.8 792.1,507.9 792.3,506.3 793.1,506.8 794.1,505.1 795.1,504.4 796.1,502.2 797.1,502.1 798.1,500.9 799.1,501.0 800.1,499.1 801.1,498.7 802.1,496.5 802.4,497.4 803.1,496.2 804.1,496.6 805.1,495.2 806.1,495.5 807.1,494.8 808.1,495.9 809.1,495.1 810.1,495.3 811.1,493.6 812.1,494.0 813.1,492.4 814.1,492.6 815.1,491.4 816.1,492.1 817.1,491.2 818.1,492.4 819.1,491.9 820.1,492.5 821.1,490.9 822.1,491.6 822.7,490.8 823.1,491.9 824.1,491.1 825.1,491.1 826.1,489.7 827.1,490.8 828.1,490.2 829.1,491.3 830.1,490.3 831.1,490.7 832.1,489.4 833.1,490.5 834.1,490.2 835.1,491.6 836.1,490.6 837.1,491.1 838.1,490.1 839.1,491.0 840.1,490.3 841.1,491.1 842.1,489.5 843.1,490.1 844.1,489.3 845.1,490.7 846.1,490.0 847.1,491.5 848.1,489.5 849.1,490.0 850.1,488.8 851.1,489.5 852.1,488.5 853.1,489.9 854.1,490.0 855.1,490.7 856.1,488.9 857.1,489.7 858.1,488.6 859.1,489.4 860.1,488.1 861.1,489.7 862.1,488.9 863.1,490.2 864.1,489.3 865.1,490.7 866.1,489.8 867.1,490.8 868.1,490.1 869.1,490.9 870.1,489.3 871.1,490.0 872.1,488.4 873.1,489.2 874.1,489.0 874.8,490.3 875.1,489.4 876.1,490.4 877.1,489.6 878.1,490.7 879.1,488.9 880.1,489.4 881.1,488.4 882.1,490.1 883.1,489.4 884.1,489.8 885.1,488.5 886.1,489.7 887.1,488.4 888.1,489.2 889.1,488.1 890.1,489.1 891.1,488.1 892.1,489.8 893.1,489.0 894.1,490.3 895.1,489.2 896.1,490.0 897.1,489.5 898.1,490.9 899.1,489.4 900.1,490.1 901.1,488.6 902.1,489.4 903.1,488.2 904.1,489.1 905.1,488.4 906.1,489.5 907.1,488.3 908.1,489.2 909.1,488.5 909.6,490.0 910.1,489.2 911.1,491.0 912.1,489.3 913.1,489.4 914.1,487.6 915.1,488.1 916.1,486.9 917.1,487.9 918.1,486.5 919.1,487.4 920.1,486.3 921.1,486.8 922.1,485.4 923.1,486.4 924.1,485.4 925.1,486.5 926.1,485.4 927.1,486.5 928.1,485.2 929.1,485.7 930.1,484.6 931.1,484.6 932.1,482.9 932.7,484.2 933.1,482.9 934.1,483.6 935.1,482.7 936.1,484.3 937.1,483.5 938.1,484.3 939.1,483.6 940.1,484.2 941.1,483.3 942.1,483.7 943.1,483.0 944.1,483.6 945.1,482.8 946.1,484.0 947.1,483.1 948.1,484.3 949.1,481.8 950.1,482.2 951.1,481.3 952.1,482.4 953.1,481.4 954.1,482.7 955.1,481.7 956.1,482.9 957.1,481.6 958.1,482.9 959.1,482.1 960.1,483.1 961.1,482.4 962.1,483.2 963.1,481.8 964.1,482.3 965.1,481.6 966.1,482.3 967.1,480.9 968.1,481.7 969.1,481.2 970.1,482.1 970.4,481.6 971.1,483.3 972.1,483.2 973.1,485.5 974.1,485.4 975.1,487.1 976.1,486.9 977.1,488.2 977.6,487.4 978.1,488.6 979.1,487.3 980.1,487.9 981.1,486.8 982.1,487.8 983.1,486.5 984.1,487.6 985.1,486.4 986.1,487.7 987.1,486.9 988.1,487.1 989.1,485.1 990.1,485.5 991.1,484.4 992.1,485.3 993.1,484.2 994.1,485.0 995.1,483.9 996.1,485.2 997.1,484.3 998.1,484.9 999.1,482.5 999.3,483.8 1000.1,482.4 1001.1,483.6 1002.1,484.3 1003.1,486.1 1004.1,485.3 1005.1,486.9 1006.1,486.0 1007.1,487.5 1008.0,486.6 1008.1,487.8 1009.1,486.9 1010.1,488.0 1011.1,487.5 1012.1,488.9 1013.1,487.8 1014.1,489.0 1015.1,487.1 1016.1,488.0 1017.1,486.2 1018.1,486.7 1019.1,485.1 1020.1,486.1 1021.1,486.0 1022.1,487.6 1023.1,486.0 1024.1,486.0 1025.1,484.6 1026.1,486.1 1027.1,485.1 1028.1,486.0 1029.1,484.9 1030.1,485.6 1031.1,483.8 1032.1,484.6 1033.1,483.2 1034.1,484.7 1035.1,484.2 1036.1,486.6 1037.1,486.9 1038.1,489.1 1039.1,489.7 1040.1,492.0 1041.1,492.8 1042.1,495.6 1043.1,496.9 1044.1,498.5 1044.2,498.2 1045.1,494.6 1046.1,488.9 1047.0,485.3 1047.1,485.9 1048.1,496.4 1048.1,496.5 1049.1,484.4 1049.2,483.3 1050.1,501.1 1050.5,507.5 1051.1,493.5 1051.9,474.5 1052.1,478.4 1053.0,504.0 1053.1,503.4 1054.1,479.2 1054.2,477.3 1055.1,494.7 1055.3,498.2 1056.1,475.6 1056.8,454.9 1057.1,463.1 1058.1,504.1 1058.2,506.8 1059.1,471.8 1059.4,463.7 1060.1,487.3 1060.7,506.2 1061.1,494.6 1062.1,456.2 1062.1,455.4 1062.6,598.0 1063.1,546.9 1064.0,440.5 1064.1,441.4 1065.1,457.7 1065.2,460.5 1066.1,490.2 1066.6,504.0 1067.1,487.2 1067.8,463.2 1068.1,476.5 1068.8,511.0 1069.1,507.4 1070.1,484.9 1070.3,482.3 1071.1,502.7 1071.5,510.7 1072.1,496.6 1072.8,480.2 1073.1,484.5 1074.1,505.5 1074.2,507.0 1075.1,489.7 1075.5,483.7 1076.1,494.0 1076.7,504.0 1077.1,498.2 1077.9,482.9 1078.1,485.3 1079.0,503.1 1079.1,502.4 1080.1,490.0 1080.3,488.0 1081.1,499.2 1081.6,506.3 1082.1,498.1 1082.8,483.5 1083.1,487.3 1084.0,505.8 1084.1,505.4 1085.1,497.8 1086.1,489.9 1086.2,489.4 1087.1,488.7 1088.1,487.4 1089.1,487.7 1090.1,486.5 1091.1,487.4 1092.1,487.1 1093.1,489.1 1094.1,487.7 1095.1,488.8 1096.1,486.6 1097.1,487.0 1098.1,484.2 1099.1,484.4 1100.1,481.7 1101.1,482.9 1102.1,482.8 1103.1,485.1 1104.1,482.5 1105.1,481.3 1106.1,480.8 1106.5,482.1 1107.1,481.7 1108.1,482.0 1109.1,479.0 1110.1,480.9 1111.1,482.0 1112.1,483.3 1113.1,480.3 1114.1,480.7 1115.1,478.9 1116.1,479.6 1117.1,477.8 1118.1,478.6 1119.1,476.6 1120.1,478.1 1121.1,477.0 1122.1,478.4 1123.1,478.1 1124.1,480.2 1125.1,478.3 1126.1,477.5 1127.1,475.2 1128.1,475.8 1129.1,473.3 1130.1,475.3 1131.1,473.8 1132.1,476.0 1133.1,475.1 1134.1,476.4 1135.1,475.0 1135.4,475.9 1136.1,473.6 1137.1,473.1 1138.1,471.2 1139.1,472.4 1140.1,470.9 1141.1,471.9 1142.1,470.8 1143.1,470.4 1144.1,467.6 1145.1,467.2 1146.1,466.5 1147.1,468.4 1148.1,466.0 1149.1,466.6 1149.9,464.1 1150.1,465.9 1151.1,464.6 1152.1,465.8 1153.1,466.0 1154.1,468.3 1155.1,468.8 1156.1,472.5 1157.1,474.5 1158.1,479.5 1159.1,479.1 1160.1,481.0 1161.1,479.8 1161.5,481.4 1162.1,479.3 1163.1,479.4 1164.1,477.4 1165.1,478.3 1166.1,476.3 1167.1,474.8 1168.1,470.8 1169.1,470.1 1170.1,466.6 1171.1,466.2 1172.1,462.3 1173.1,461.4 1174.1,458.2 1175.1,458.7 1176.1,456.7 1177.1,455.9 1178.1,452.4 1178.9,452.7 1179.1,452.1 1180.1,455.2 1181.1,457.0 1182.1,461.3 1183.1,463.7 1184.1,467.8 1185.1,468.7 1186.1,472.1 1187.1,471.8 1187.6,473.0 1188.1,471.1 1189.1,471.8 1190.1,469.9 1191.1,470.2 1192.1,469.4 1193.1,470.9 1194.1,468.7 1195.1,469.5 1196.1,467.1 1197.1,466.6 1198.1,462.9 1199.1,465.7 1199.2,464.5 1200.1,468.2 1201.1,465.5 1202.1,465.0 1203.1,462.6 1204.1,464.1 1205.1,463.4 1206.1,464.3 1207.1,463.1 1208.1,464.6 1209.1,463.7 1210.1,466.1 1211.1,465.6 1212.1,467.6 1213.1,466.9 1214.1,468.5 1215.1,467.4 1216.1,469.4 1217.1,467.1 1218.1,466.1 1219.1,466.5 1220.1,468.5 1221.1,468.1 1222.1,468.0 1222.3,466.0 1223.1,466.1 1224.1,466.1 1225.1,467.6 1226.1,465.8 1227.1,465.6 1228.1,463.9 1229.1,464.3 1230.1,462.9 1231.1,463.7 1232.1,460.9 1233.1,460.8 1234.1,460.4 1235.1,462.6 1236.1,460.3 1237.1,459.8 1238.1,457.1 1239.1,457.5 1239.7,456.0 1240.1,457.3 1241.1,455.3 1242.1,453.9 1243.1,449.8 1244.0,449.3 1244.1,448.3 1245.1,451.7 1246.1,454.9 1247.1,459.7 1248.1,461.2 1248.4,463.1 1249.1,461.3 1250.1,460.4 1251.1,456.9 1252.1,456.0 1253.1,453.5 1254.1,453.7 1255.1,451.0 1255.6,451.3 1256.1,450.6 1257.1,452.1 1258.1,451.0 1259.1,451.9 1260.1,451.8 1261.1,454.5 1262.1,455.0 1262.9,457.2 1263.1,456.5 1264.1,457.1 1265.1,452.3 1266.1,450.6 1267.1,447.5 1268.1,447.5 1269.1,445.2 1270.1,444.4 1271.1,442.1 1271.6,442.5 1272.1,442.3 1273.1,445.3 1274.1,445.5 1275.1,448.6 1276.1,447.7 1277.1,448.6 1278.1,448.4 1279.1,451.1 1280.1,451.7 1280.2,452.7 1281.1,452.2 1282.1,453.0 1283.1,451.5 1284.1,452.2 1285.1,450.8 1286.1,451.2 1287.1,448.3 1288.1,448.3 1289.1,445.9 1290.1,448.4 1291.1,448.5 1292.1,449.6 1293.1,447.0 1294.1,446.7 1294.7,446.0 1295.1,447.9 1296.1,448.0 1297.1,449.0 1298.1,447.5 1299.1,448.3 1300.0,447.1 1300.1,448.2 1301.1,448.8 1302.1,451.3 1303.1,450.5 1304.1,452.2 1305.1,451.4 1306.1,452.6 1307.1,451.5 1308.1,452.7 1308.7,452.2 1309.1,453.5 1310.1,452.7 1311.1,453.5 1312.1,451.8 1313.1,452.1 1314.1,450.9 1315.1,451.9 1316.1,450.6 1317.1,451.1 1318.1,449.2 1319.1,449.8 1320.1,448.7 1321.1,449.8 1322.1,446.8 1323.1,446.8 1324.1,444.6 1325.1,445.9 1326.1,445.2 1327.1,445.0 1328.1,442.7 1329.1,445.5 1330.1,445.3 1331.1,447.0 1332.1,445.3 1333.1,446.7 1334.1,445.4 1335.1,445.8 1336.1,443.2 1337.1,442.8 1338.1,441.8 1339.1,443.3 1340.1,442.5 1341.1,444.0 1342.1,442.7 1343.1,443.2 1344.1,441.0 1345.1,441.9 1346.1,440.5 1347.1,442.0 1348.1,442.5 1348.3,443.6 1349.1,443.4 1350.1,444.0 1351.1,442.6 1352.1,442.4 1353.1,440.8 1354.1,441.5 1355.1,441.3 1356.1,442.9 1357.1,441.3 1358.1,442.0 1359.1,440.7 1360.1,441.3 1361.1,440.2 1362.1,441.0 1363.1,440.3 1364.1,440.9 1365.1,439.9 1366.1,440.4 1367.1,439.6 1367.6,440.2 1368.1,439.6 1369.1,440.9 1370.1,440.7 1371.1,441.9 1372.1,441.9 1373.1,443.4 1374.1,443.8 1375.1,445.6 1376.1,445.8 1376.3,446.5 1377.1,447.5 1378.1,450.3 1379.1,452.7 1380.1,456.1 1381.1,458.5 1382.1,463.3 1383.1,467.8 1384.1,473.5 1384.9,477.7 1385.1,479.8 1386.1,488.4 1387.1,498.6 1388.1,508.6 1388.8,516.5 1389.1,520.2 1390.1,535.1 1391.1,550.0 1392.1,565.5 1392.7,574.3 1393.1,580.5 1394.1,595.6 1395.1,611.3 1396.1,626.3 1396.5,632.7 1397.1,641.5 1398.1,657.0 1399.1,672.0 1400.1,686.4 1400.4,690.1 1401.1,697.6 1402.1,707.1 1403.1,716.2 1404.1,724.0 1404.2,725.0 1405.1,729.1 1406.1,733.7 1407.1,736.4 1408.1,734.0 1409.1,730.0 1410.1,725.7 1411.0,721.0 1411.1,720.4 1412.1,711.1 1413.1,701.1 1414.1,689.8 1415.1,678.8 1415.8,670.7 1416.1,667.4 1417.1,654.9 1418.1,642.8 1419.1,630.1 1419.7,622.9 1420.1,617.6 1421.1,605.0 1422.1,591.9 1423.1,580.0 1423.6,574.2 1424.1,570.3 1425.1,561.7 1426.1,554.2 1427.1,547.2 1427.4,545.7 1428.1,543.4 1429.1,541.0 1430.1,538.3 1431.1,536.2 1432.1,533.9 1433.1,532.3 1433.2,531.9 1434.1,531.3 1435.1,530.3 1436.1,529.9 1437.1,528.9 1438.1,528.3 1439.1,527.4 1440.1,527.2 1441.1,526.5 1442.1,526.2 1443.1,525.2 1444.1,524.8 1444.8,524.1 1445.1,524.2 1446.1,523.2 1447.1,522.8 1448.1,521.9 1449.1,521.6 1450.1,520.5 1451.1,520.1 1452.1,519.1 1453.1,518.8 1454.1,517.7 1455.1,517.5 1456.1,516.6 1457.1,516.3 1458.1,515.4 1459.1,515.2 1460.1,514.5 1460.2,514.7 1461.1,514.3 1462.1,514.4 1463.1,514.2 1464.1,514.5 1465.1,514.1 1466.1,514.4 1467.1,513.8 1468.1,513.9 1469.1,513.5 1470.1,513.7 1470.8,513.4 1471.1,513.3 1472.1,511.3 1473.1,509.7 1474.1,507.1 1475.1,505.0 1476.1,502.3 1477.1,500.2 1477.6,498.9 1478.1,498.4 1479.1,496.7 1480.1,495.4 1481.1,493.6 1482.1,492.4 1483.1,490.7 1484.1,489.5 1485.1,487.7 1485.3,487.6 1486.1,485.9 1487.1,484.5 1488.1,482.4 1489.1,480.8 1490.1,478.8 1490.2,478.9 1491.1,477.6 1492.1,476.6 1493.1,474.9 1494.1,473.9 1495.1,472.4 1496.1,471.4 1497.1,470.0 1498.1,469.3 1498.8,468.3 1499.1,468.3 1500.1,467.3 1501.1,466.7 1502.1,465.6 1503.1,465.0 1504.1,464.1 1505.1,463.5 1506.1,462.6 1507.1,462.2 1508.1,461.4 1509.1,461.1 1510.1,460.5 1510.4,460.6 1511.1,460.4 1512.1,460.8 1513.1,460.7 1514.1,461.1 1515.1,461.0 1516.1,461.5 1516.2,461.3 1517.1,464.2 1518.1,468.3 1519.1,473.4 1520.1,477.8 1521.1,484.1 1522.1,489.4 1522.4,490.7 1523.1,488.2 1524.1,483.8 1525.1,478.2 1525.9,474.4 1526.1,473.2 1527.1,468.6 1528.1,463.5 1529.1,459.5 1529.7,457.5 1530.1,457.6 1531.1,457.1 1532.1,457.2 1533.1,456.8 1533.6,457.0 1534.1,456.9 1535.1,458.1 1536.1,458.9 1537.1,460.3 1538.1,461.4 1539.1,463.1 1539.4,463.4 1540.1,466.7 1541.1,472.1 1542.1,478.9 1543.1,485.1 1544.1,491.1 1544.2,491.3 1545.1,494.8 1546.1,497.9 1547.1,501.4 1548.1,504.2 1549.1,507.6 1550.1,510.2 1551.0,512.9 1551.1,512.9 1552.1,515.5 1553.1,517.4 1554.1,519.6 1554.8,520.2 1555.1,520.1 1556.1,518.0 1557.1,515.9 1558.1,512.9 1559.1,510.4 1559.7,508.6 1560.1,507.5 1561.1,503.8 1562.1,500.4 1563.1,496.6 1564.1,493.5 1565.1,490.3 1565.4,489.7 1566.1,488.4 1567.1,487.2 1568.1,485.6 1569.1,484.7 1570.1,483.6 1570.3,483.8 1571.1,484.6 1572.1,486.9 1573.1,489.0 1574.1,491.6 1575.1,495.0 1576.1,499.3 1577.1,502.9 1578.0,505.9 1578.1,505.8 1579.1,507.1 1580.1,507.8 1581.1,509.1 1582.1,509.6 1583.1,510.6 1584.1,511.1 1585.1,512.3 1585.7,512.4 1586.1,513.1 1587.1,514.1 1588.1,515.8 1589.1,516.8 1590.1,518.2 1591.1,519.1 1592.1,520.5 1593.1,521.1 1593.4,521.5 1594.1,520.4 1595.1,519.1 1596.1,516.9 1597.1,515.0 1598.1,512.6 1599.1,510.8 1599.2,510.4 1600.1,509.2 1601.1,507.3 1602.1,505.8 1603.1,503.8 1604.1,502.5 1605.1,500.6 1606.1,499.5 1607.0,498.2 1607.1,498.3 1608.1,497.7 1609.1,497.6 1610.1,497.1 1611.1,497.1 1612.1,496.4 1613.1,496.4 1614.1,495.7 1615.1,495.8 1616.1,495.2 1616.6,495.3 1617.1,494.8 1618.1,494.6 1619.1,493.9 1620.1,493.5 1621.1,492.8 1622.1,492.6 1623.1,491.9 1624.1,491.9 1625.1,491.4 1625.3,491.6 1626.1,491.7 1627.1,492.7 1628.1,493.2 1629.1,494.3 1630.1,495.0 1631.1,496.3 1632.0,497.2 1632.1,497.6 1633.1,500.7 1634.1,504.8 1635.1,508.8 1636.1,513.4 1637.1,517.5 1637.8,520.6 1638.1,521.3 1639.1,524.9 1640.1,528.0 1641.1,531.4 1642.1,534.2 1643.1,537.5 1644.1,540.5 1645.1,543.9 1646.1,546.7 1647.1,550.1 1647.5,551.1 1648.1,553.4 1649.1,556.4 1650.1,560.0 1651.1,563.0 1652.1,566.6 1653.1,569.8 1654.1,573.4 1655.1,576.7 1656.1,580.7 1657.1,584.0 1658.1,589.2 1659.1,594.3 1660.1,599.7 1661.0,603.3 1661.1,603.7 1662.1,605.2 1663.1,607.0 1664.1,608.1 1665.1,609.6 1666.1,610.3 1666.8,611.2 1667.1,610.9 1668.1,611.1 1669.1,610.8 1670.1,611.0 1671.1,610.8 1672.1,610.9 1673.1,610.6 1674.1,610.8 1675.1,610.4 1676.1,610.6 1677.1,610.2 1678.1,610.4 1679.1,610.2 1680.1,610.3 1680.3,610.1 1681.1,611.1 1682.1,612.5 1683.1,614.4 1684.1,616.2 1685.1,618.8 1686.1,620.8 1687.1,623.4 1688.1,626.9 1689.1,631.2 1690.1,635.3 1691.1,640.1 1692.1,644.4 1693.1,649.5 1694.1,653.7 1695.1,658.5 1696.1,662.8 1697.1,667.8 1698.1,672.3 1699.1,677.3 1700.1,681.6 1701.1,686.2 1702.1,690.0 1702.4,691.6 1703.1,693.5 1704.1,696.8 1705.1,699.5 1706.1,702.5 1707.1,704.9 1708.1,707.7 1709.1,709.6 1709.4,710.4 1710.1,710.9 1711.1,712.2 1712.1,712.8 1713.1,714.0 1714.1,714.3 1715.1,712.4 1716.1,709.1 1717.1,705.6 1718.1,701.5 1718.9,698.5 1719.1,697.4 1720.1,692.1 1721.1,685.9 1722.1,680.2 1723.1,674.7 1723.6,672.6 1724.1,671.2 1725.1,669.1 1726.1,666.6 1727.1,664.9 1728.1,663.2 1728.3,663.3 1729.1,663.7 1730.1,665.4 1731.1,666.6 1732.1,668.8 1733.0,670.2 1733.1,670.7 1734.1,673.6 1735.1,677.4 1736.1,681.0 1737.1,685.2 1738.1,688.9 1739.1,692.8 1740.1,696.0 1741.1,698.5 1742.1,700.4 1743.1,702.7 1744.1,704.7 1745.1,706.9 1746.1,708.5 1747.1,710.4 1748.1,711.5 1749.1,713.2 1750.1,714.2 1751.1,715.7 1752.1,716.4 1753.0,717.5 1753.1,717.2 1754.1,717.3 1755.1,716.9 1756.1,717.1 1757.1,716.7 1758.1,716.6 1759.1,716.1 1760.1,716.3 1761.1,717.1 1762.1,719.0 1763.1,720.5 1764.1,722.9 1765.1,724.7 1766.1,727.2 1767.1,729.0 1768.1,732.0 1769.1,734.4 1770.1,737.5 1771.1,740.1 1772.1,742.9 1773.1,745.4 1774.1,748.0 1774.2,747.9 1775.1,749.3 1776.1,750.3 1777.1,751.7 1778.1,752.5 1779.1,753.9 1780.1,754.7 1781.1,755.8 1782.1,756.3 1783.1,757.2 1783.6,757.2 1784.1,757.1 1785.1,755.6 1786.1,754.2 1787.1,752.0 1788.1,750.3 1789.1,748.3 1789.5,748.0 1790.1,747.3 1791.1,746.9 1792.1,746.0 1793.1,745.7 1794.1,744.8 1795.1,744.4 1796.1,743.5 1796.6,743.4 1797.1,742.5 1798.1,741.1 1799.1,739.0 1800.1,737.3 1801.1,735.1 1802.1,733.6 1803.1,731.9 1803.6,731.5 1804.1,731.2 1805.1,731.2 1806.1,730.8 1807.1,730.8 1808.1,730.4 1809.1,730.5 1810.1,730.0 1811.1,730.0 1812.1,729.6 1813.1,729.6 1814.1,729.1 1814.2,729.4 1815.1,727.8 1816.1,726.3 1817.1,724.2 1818.1,722.1 1819.1,719.6 1820.1,717.3 1821.1,714.6 1822.1,712.1 1823.1,709.3 1823.7,708.1 1824.1,706.5 1825.1,703.3 1826.1,699.3 1827.1,695.7 1828.1,691.4 1829.1,687.8 1830.1,683.7 1831.1,680.0 1832.1,676.2 1833.1,672.8 1834.1,669.7 1835.1,667.1 1836.1,664.2 1837.1,661.8 1838.1,659.1 1839.1,656.8 1840.1,653.9 1841.1,651.7 1842.1,648.9 1843.1,646.6 1844.1,643.6 1844.8,642.0 1845.1,641.0 1846.1,638.4 1847.1,635.4 1848.1,632.8 1849.1,629.6 1850.1,627.0 1851.1,623.9 1852.1,621.1 1853.1,618.0 1854.1,615.6 1855.1,612.5 1856.1,610.4 1856.6,608.9 1857.1,608.2 1858.1,606.0 1859.1,604.4 1860.1,602.3 1861.1,600.7 1862.1,598.7 1863.1,597.0 1864.1,595.0 1865.1,593.5 1866.1,591.5 1867.1,590.1 1868.1,588.4 1868.4,588.0 1869.1,586.6 1870.1,585.4 1871.1,583.5 1872.1,582.3 1873.1,580.5 1874.1,579.5 1875.1,577.5 1875.5,577.1 1876.1,576.0 1877.1,575.5 1878.1,574.4 1879.1,573.7 1880.1,572.2 1881.1,571.7 1882.1,570.6 1883.1,570.5 1883.7,569.9 1884.1,570.8 1885.1,571.0 1886.1,572.0 1887.1,572.4 1888.1,574.0 1888.4,573.7 1889.1,576.4 1890.1,579.4 1891.1,583.8 1892.1,586.7 1893.1,590.8 1894.1,592.5 1894.3,593.3 1895.1,592.4 1896.1,592.9 1897.1,592.3 1898.1,593.1 1899.1,592.1 1900.1,591.8 1901.1,590.7 1901.4,591.1 1902.1,591.5 1903.1,595.2 1904.1,597.7 1905.1,601.5 1906.1,603.8 1907.1,606.3 1907.3,606.1 1908.1,605.9 1909.1,603.8 1910.1,602.8 1911.1,599.9 1912.1,598.1 1913.1,594.7 1914.1,593.2 1915.1,590.8 1915.5,590.7 1916.1,589.3 1917.1,587.2 1918.1,583.6 1919.1,581.4 1920.1,578.3 1921.1,577.0 1922.1,574.2 1923.1,573.1 1924.1,570.5 1924.9,570.3 1925.1,569.7 1926.1,570.6 1927.1,570.3 1928.1,570.7 1929.1,569.7 1930.1,571.1 1931.1,571.3 1932.1,572.6 1933.1,572.1 1933.2,572.9 1934.1,570.1 1935.1,568.1 1936.1,564.8 1937.1,563.7 1938.1,561.1 1939.0,560.3 1939.1,559.6 1940.1,559.8 1941.1,558.6 1942.1,558.9 1943.1,557.4 1944.1,557.6 1945.1,556.5 1946.1,556.5 1947.1,555.6 1948.1,555.7 1948.5,555.2 1949.1,557.1 1950.1,559.0 1951.1,563.6 1952.1,566.8 1953.1,572.2 1954.1,576.0 1955.1,580.6 1956.1,582.0 1956.7,583.4 1957.1,581.6 1958.1,579.0 1959.1,574.5 1960.1,571.2 1961.1,567.9 1961.4,568.1 1962.1,568.3 1963.1,571.0 1964.1,572.1 1965.1,574.9 1966.1,576.5 1967.1,580.0 1968.1,581.9 1969.1,585.0 1969.7,585.4 1970.1,586.5 1971.1,587.3 1972.1,589.3 1973.1,590.2 1974.1,592.1 1975.1,592.6 1976.1,594.1 1976.7,593.7 1977.1,594.3 1978.1,592.9 1979.1,593.2 1980.1,592.6 1981.0,593.5 1981.1,596.0 1982.1,652.9 1982.6,674.1 1983.1,643.9 1984.1,546.7 1985.1,456.8 1985.4,439.6 1986.1,506.5 1987.1,627.0 1987.4,650.1 1988.1,626.3 1989.1,584.7 1989.4,575.9 1990.1,575.5 1991.1,574.1 1992.1,573.8 1993.1,572.4 1994.1,572.2 1994.4,571.2 1995.1,568.5 1996.1,561.8 1997.1,555.5 1998.1,546.6 1999.1,539.4 2000.1,530.5 2000.3,529.5 2001.1,522.5 2002.1,515.4 2003.1,507.0 2004.1,500.1 2005.1,492.8 2006.1,487.7 2006.2,486.6 2007.1,484.0 2008.1,480.1 2009.1,478.0 2010.1,475.1 2011.1,474.8 2012.0,473.0 2012.1,474.1 2013.1,473.4 2014.1,474.5 2015.1,474.5 2016.1,476.4 2017.1,476.8 2017.9,478.5 2018.1,477.7 2019.1,477.3 2020.1,475.1 2021.1,474.9 2022.1,473.5 2022.6,473.9 2023.1,473.8 2024.1,476.7 2025.1,478.4 2026.1,482.5 2027.1,485.5 2028.1,489.9 2029.1,492.7 2030.1,496.8 2030.9,498.1 2031.1,498.6 2032.1,496.1 2033.1,494.9 2034.1,491.9 2035.1,489.9 2036.1,486.4 2037.1,484.1 2038.0,481.0 2038.1,481.4 2039.1,474.9 2040.1,468.5 2041.1,461.2 2041.5,459.7 2042.1,458.3 2043.1,458.0 2044.1,456.3 2045.0,455.7 2045.1,454.1 2046.1,448.1 2047.1,439.2 2048.1,432.1 2048.6,428.2 2049.1,427.5 2050.1,422.5 2051.1,419.3 2052.1,415.1 2053.1,413.8 2053.3,412.5 2054.1,413.8 2055.1,413.7 2056.1,415.4 2057.1,415.1 2058.1,417.0 2059.1,417.3 2060.1,420.0 2061.1,421.1 2061.5,422.1 2062.1,420.0 2063.1,417.1 2064.1,411.9 2065.1,408.0 2066.1,402.1 2067.1,398.4 2068.1,392.9 2068.6,391.5 2069.1,389.0 2070.1,386.1 2071.1,381.9 2072.1,379.4 2073.1,375.5 2074.1,373.0 2075.1,368.5 2076.1,365.8 2076.8,362.8" fill="none" stroke="#f14040" stroke-width="5.4" stroke-linejoin="round" stroke-linecap="butt"/>
<polyline points="160.1,764.5 161.1,766.1 162.1,765.1 163.1,766.4 164.1,765.1 165.1,766.0 166.1,764.4 167.1,764.5 168.1,763.7 169.1,765.4 170.1,764.4 171.1,765.3 172.1,763.7 173.1,764.1 173.2,762.7 174.1,765.0 175.1,766.0 176.1,768.6 177.1,769.0 178.1,771.7 179.0,772.0 179.1,773.0 180.1,772.0 181.1,772.3 182.1,769.5 183.1,768.9 184.1,767.5 185.1,767.8 186.1,766.4 187.1,767.1 187.6,766.0 188.1,767.1 189.1,765.5 190.1,767.1 191.1,765.9 192.1,768.2 193.1,767.6 194.1,769.0 195.1,767.8 196.1,770.7 197.1,770.6 198.1,771.9 199.1,770.9 199.2,772.4 200.1,770.7 201.1,771.3 202.1,770.3 203.1,771.5 204.1,770.6 205.1,771.5 206.1,770.2 207.1,770.7 208.1,769.4 209.1,771.0 210.1,768.7 211.1,768.8 212.1,767.2 213.1,768.8 214.1,767.7 215.1,768.8 216.1,767.0 217.1,768.7 218.1,767.7 219.1,769.1 220.1,767.9 221.1,768.5 222.1,766.4 223.1,767.5 224.1,766.4 225.1,767.0 226.1,766.3 227.1,767.9 228.1,766.8 229.1,768.4 230.1,766.9 231.1,768.0 232.1,767.0 233.1,768.2 234.1,767.4 235.1,768.3 236.1,767.4 237.1,768.6 238.1,767.7 239.1,768.7 240.1,768.1 241.1,770.0 242.1,768.9 243.1,770.0 244.1,768.6 245.1,770.0 246.1,768.4 247.1,770.3 248.1,769.4 249.1,770.6 250.1,769.8 251.1,770.5 252.1,769.9 253.1,771.4 254.1,770.4 255.1,772.3 256.1,771.6 257.1,773.1 258.1,772.5 259.1,773.9 260.0,772.6 260.1,774.0 261.1,771.5 262.1,771.7 263.1,769.3 264.1,769.7 265.1,768.1 266.1,768.6 267.1,766.4 268.1,767.1 268.7,765.6 269.1,766.9 270.1,766.6 271.1,767.8 272.1,766.4 273.1,767.7 274.1,766.8 275.1,769.6 276.1,769.1 277.1,770.8 278.1,770.7 279.1,772.3 280.1,771.9 281.1,772.9 282.1,771.3 283.1,772.0 284.1,771.0 285.1,772.2 286.1,771.4 287.1,771.9 288.1,770.8 289.1,771.3 290.1,769.3 291.1,769.4 292.1,767.1 293.1,767.3 293.4,765.8 294.1,767.5 295.1,767.7 296.1,770.4 297.1,771.5 298.1,775.3 299.1,776.1 300.1,776.3 301.1,773.7 302.1,773.0 303.1,770.1 304.1,769.9 305.1,767.3 306.1,767.0 306.4,766.2 307.1,768.2 308.1,768.3 309.1,772.1 310.1,772.7 311.1,774.6 312.1,774.6 313.1,776.7 313.6,776.3 314.1,777.3 315.1,774.9 316.1,774.0 317.1,770.7 318.1,769.7 319.1,768.2 320.1,767.9 320.9,765.4 321.1,766.4 322.1,766.6 323.1,770.7 324.1,772.7 325.1,775.5 326.1,775.9 326.7,777.1 327.1,776.4 328.1,777.1 329.1,775.6 330.1,776.5 331.1,775.4 332.1,777.0 333.1,776.7 334.1,778.1 335.1,776.4 336.1,776.9 337.1,774.7 338.1,776.3 339.1,775.9 340.1,777.3 341.1,776.7 342.1,778.3 343.1,776.6 344.1,777.3 345.1,775.7 346.1,776.3 346.9,774.8 347.1,775.8 348.1,773.4 349.1,773.7 350.1,771.1 351.1,771.8 351.3,770.5 352.1,772.5 353.1,772.8 354.1,775.7 355.1,776.8 356.1,778.7 357.1,778.1 358.1,780.8 358.5,780.3 359.1,782.4 360.1,781.6 361.1,782.8 362.1,782.0 363.1,782.9 364.1,781.1 365.1,782.4 366.1,781.9 367.1,783.5 368.1,781.9 369.1,782.5 370.1,781.4 371.1,781.9 372.1,780.5 373.1,781.7 374.1,781.3 375.1,782.2 375.9,780.8 376.1,781.7 377.1,781.4 378.1,784.6 379.1,785.5 380.1,788.5 381.1,789.6 381.7,791.4 382.1,790.5 383.1,790.9 384.1,789.6 385.1,791.1 386.1,790.6 387.1,791.9 388.1,790.3 389.1,792.1 390.1,791.8 391.1,792.4 392.1,791.3 393.1,792.5 394.1,792.6 395.1,794.7 396.1,792.7 397.1,793.5 398.1,792.5 399.1,793.4 400.1,792.4 401.1,793.9 402.1,793.1 403.1,794.7 404.1,793.3 404.9,794.6 405.1,793.3 406.1,795.1 407.1,794.4 408.1,796.7 409.1,796.3 410.1,799.2 411.1,799.0 412.1,800.5 413.1,799.9 414.1,802.5 415.1,801.7 416.1,804.1 417.1,803.2 418.1,805.3 419.1,805.5 420.1,808.0 421.1,808.2 422.1,809.8 423.1,809.8 424.1,810.7 425.1,809.3 426.1,810.0 427.1,808.5 428.1,808.8 429.1,807.4 430.1,809.3 431.1,808.1 432.1,809.8 433.1,808.9 434.1,810.4 435.1,809.0 436.1,809.8 437.1,808.3 438.1,808.5 439.1,806.8 439.6,808.2 440.1,806.6 441.1,808.0 442.1,807.4 443.1,809.7 444.1,809.8 445.1,812.7 446.1,811.2 447.1,812.2 448.1,811.1 449.1,812.8 450.1,812.9 451.1,815.2 451.2,813.7 452.1,815.1 453.1,814.3 454.1,815.1 455.1,813.6 456.1,814.9 457.1,813.7 458.1,815.2 459.1,814.4 460.1,817.0 461.1,816.6 462.1,817.7 463.1,816.8 464.1,817.8 465.1,816.0 466.1,816.1 467.1,814.6 468.1,816.0 468.6,815.0 469.1,816.1 470.1,815.7 471.1,817.1 472.1,816.4 473.1,817.4 474.1,817.5 475.1,819.7 476.1,819.3 477.1,819.8 478.1,818.0 479.1,819.3 480.1,819.1 481.1,820.8 482.1,820.8 483.1,822.5 484.1,821.3 485.1,822.3 486.1,820.8 487.1,821.6 488.1,820.4 488.8,821.4 489.1,820.2 490.1,820.8 491.1,819.2 492.1,820.2 493.1,819.4 494.1,820.2 495.1,818.6 496.1,819.6 497.1,819.0 498.1,820.6 499.1,818.6 500.1,819.1 500.4,817.9 501.1,819.3 502.1,818.5 503.1,819.8 504.1,818.6 505.1,819.5 506.1,819.3 507.1,820.7 508.1,820.4 509.1,822.5 510.1,821.7 511.1,823.6 512.0,821.5 512.1,822.8 513.1,820.7 514.1,821.8 515.1,821.4 516.1,822.7 517.1,821.1 518.1,821.6 519.1,820.5 520.1,821.6 521.1,821.5 522.1,822.9 523.1,821.5 524.1,822.1 525.1,820.7 526.1,821.4 527.1,820.2 528.1,822.0 529.1,820.3 530.1,821.7 531.1,820.6 532.1,821.7 533.1,820.4 534.1,821.6 535.1,819.6 535.2,820.7 536.1,818.7 537.1,820.0 538.1,818.9 539.1,819.8 540.1,818.5 541.1,819.0 542.1,817.2 543.1,818.1 544.1,817.1 545.1,817.3 546.1,816.2 546.8,817.1 547.1,815.6 548.1,817.2 549.1,816.6 550.1,817.8 551.1,817.2 552.1,818.3 553.1,816.1 554.1,816.8 555.1,815.2 556.1,816.4 557.1,815.2 558.1,817.0 559.1,816.4 560.1,817.9 561.1,817.0 562.1,818.7 563.1,817.5 564.1,818.8 565.1,817.6 566.1,819.2 567.1,817.9 568.1,817.7 569.1,815.9 570.1,817.5 571.1,815.9 572.1,817.9 573.1,817.1 574.1,818.9 575.1,818.0 576.1,818.6 577.1,816.9 578.1,818.1 578.6,817.6 579.1,818.5 580.1,817.6 581.1,818.0 582.1,816.7 583.1,816.8 584.1,815.3 585.1,815.4 586.1,813.5 587.1,815.0 588.1,814.0 589.1,815.0 590.1,813.6 590.2,814.3 591.1,813.1 592.1,814.7 593.1,813.9 594.1,815.4 595.1,815.0 596.1,816.7 597.1,817.0 598.1,818.4 599.1,817.4 600.1,818.2 601.1,817.0 601.8,819.1 602.1,817.7 603.1,819.0 604.1,816.8 605.1,817.6 606.1,815.8 607.1,816.4 608.1,815.1 609.1,815.7 610.1,814.4 611.1,815.7 612.1,814.3 613.1,814.5 614.1,813.1 615.1,814.3 616.1,813.9 617.1,814.1 618.1,812.1 619.1,812.2 620.1,810.9 621.1,812.3 622.1,811.6 623.1,812.4 624.1,810.4 624.9,810.9 625.1,809.8 626.1,811.0 627.1,810.2 628.1,811.3 629.1,810.1 630.1,810.9 631.1,809.7 632.1,810.8 633.1,809.5 634.1,810.5 635.1,809.4 636.1,810.6 637.1,809.7 638.1,811.9 639.1,811.9 640.1,813.0 641.1,810.9 642.1,810.8 643.1,810.8 644.1,812.8 645.1,812.3 646.1,812.5 647.1,810.9 648.1,812.4 649.1,811.9 650.1,813.4 651.1,811.7 652.1,812.2 653.1,810.6 654.1,812.0 655.1,811.7 656.1,813.1 657.1,812.1 658.1,812.6 659.1,811.3 660.1,812.2 661.1,811.4 662.1,812.8 663.1,812.1 664.1,814.1 665.1,812.3 665.5,813.5 666.1,812.0 667.1,812.4 668.1,810.7 669.1,811.6 670.1,810.4 671.1,812.4 672.1,812.1 673.1,813.5 674.1,812.4 675.1,813.6 676.1,812.6 677.1,813.0 678.1,811.7 679.1,813.5 680.1,813.0 681.1,813.3 682.1,812.1 683.1,812.9 684.1,811.5 685.1,812.9 686.1,811.6 687.1,813.1 688.1,811.6 689.1,812.7 690.1,811.4 691.1,812.5 692.1,810.9 693.1,812.1 694.1,810.9 695.1,812.7 696.1,812.0 697.1,814.2 698.1,813.5 699.1,815.0 700.1,813.2 700.2,814.6 701.1,813.3 702.1,814.5 703.1,813.8 704.1,816.2 705.1,816.9 706.1,818.4 707.1,818.1 708.1,819.2 708.9,819.0 709.1,820.3 710.1,821.2 711.1,823.5 712.1,824.3 713.1,826.9 714.1,827.9 715.1,830.3 716.1,831.8 717.1,834.4 717.6,835.0 718.1,836.6 719.1,838.4 720.1,841.2 721.1,842.8 722.1,845.9 723.1,846.9 724.1,849.3 725.1,849.9 726.1,851.9 726.3,851.3 727.1,852.1 728.1,851.8 729.1,852.7 730.1,852.7 731.1,854.0 732.1,853.6 733.1,854.1 734.1,853.4 735.0,854.5 735.1,853.8 736.1,855.9 737.1,856.7 738.1,858.9 739.1,860.1 740.1,862.4 741.1,862.8 742.1,865.0 743.1,865.4 744.1,867.4 745.1,867.7 745.9,868.8 746.1,868.2 747.1,867.8 748.1,865.3 749.1,864.5 750.1,861.5 751.1,860.4 752.1,857.5 753.1,856.1 754.1,854.0 754.6,854.1 755.1,853.2 756.1,854.0 757.1,852.8 758.1,852.4 759.1,850.8 760.1,851.0 761.1,849.4 762.1,849.9 763.1,848.6 764.1,848.9 764.8,848.0 765.1,848.4 766.1,847.4 767.1,847.6 768.1,846.8 769.1,847.8 770.1,847.3 771.1,848.0 772.1,847.0 773.1,847.6 774.1,846.7 775.1,847.0 776.1,846.1 777.1,846.7 778.1,845.4 779.1,846.5 780.1,845.9 781.1,847.1 782.1,845.3 783.1,846.0 784.1,845.9 785.1,847.9 786.1,847.8 787.1,849.5 787.9,849.4 788.1,849.6 789.1,845.5 790.1,841.3 791.1,835.3 792.1,832.3 792.3,830.7 793.1,830.6 794.1,828.9 795.1,828.9 796.1,827.6 797.1,828.5 798.1,826.8 799.1,826.9 799.5,826.0 800.1,826.8 801.1,825.5 802.1,826.3 803.1,825.2 804.1,826.1 805.1,825.2 806.1,825.7 807.1,824.6 808.1,825.3 809.1,824.5 810.1,825.6 811.1,824.6 812.1,825.7 813.1,823.9 814.0,824.2 814.1,822.9 815.1,823.9 816.1,823.0 817.1,824.1 818.1,823.1 819.1,823.6 820.1,822.9 821.1,823.5 822.1,821.9 823.1,822.1 824.1,820.6 825.1,821.3 826.1,820.0 827.1,820.8 828.1,819.7 829.1,820.9 830.1,820.4 831.1,821.0 832.1,819.7 833.1,819.9 834.1,818.5 835.1,819.3 836.1,818.5 837.1,819.4 837.2,818.8 838.1,819.8 839.1,819.0 840.1,819.9 841.1,819.5 842.1,821.1 843.1,820.7 844.1,822.2 845.1,821.6 846.1,823.0 847.1,821.9 848.1,822.8 849.1,822.3 850.1,823.0 851.1,821.9 851.6,823.1 852.1,821.9 853.1,822.8 854.1,821.4 855.1,822.1 856.1,820.3 857.1,821.8 858.1,821.0 859.1,822.1 860.1,821.0 861.1,822.0 862.1,821.2 863.1,821.7 864.1,820.5 865.1,820.9 866.1,820.1 867.1,821.1 868.1,820.6 869.1,821.6 870.1,820.8 871.1,822.1 872.1,820.3 873.1,820.8 874.1,819.5 875.1,820.2 876.1,818.7 877.1,819.9 878.1,818.8 879.1,819.9 880.1,819.5 880.6,820.8 881.1,820.2 882.1,821.0 883.1,819.9 884.1,820.2 885.1,819.8 886.1,821.8 887.1,822.0 888.1,824.0 889.1,823.8 890.1,824.5 891.1,823.2 892.1,824.6 892.2,823.7 893.1,824.2 894.1,823.1 895.1,823.9 896.1,822.9 897.1,823.8 898.1,823.2 899.1,824.5 900.1,823.3 901.1,823.8 902.1,822.0 903.1,823.7 904.1,823.0 905.1,824.8 906.1,823.7 907.1,824.4 908.1,823.2 909.1,824.2 910.1,823.5 911.1,824.6 912.1,823.3 913.1,823.3 914.1,821.7 915.1,822.1 915.3,821.2 916.1,821.7 917.1,820.5 918.1,821.0 919.1,819.7 920.1,820.9 921.1,819.8 922.1,820.5 923.1,818.9 924.1,819.8 925.1,818.5 926.1,819.7 926.9,818.6 927.1,819.5 928.1,818.7 929.1,820.4 930.1,818.9 931.1,819.5 932.1,819.1 933.1,821.3 934.1,822.0 935.1,822.4 936.1,821.1 937.1,821.6 938.1,821.2 938.5,821.8 939.1,820.8 940.1,821.3 941.1,819.6 942.1,820.4 943.1,818.8 944.1,819.0 945.1,817.4 946.1,817.9 947.1,815.8 948.1,817.0 948.7,816.2 949.1,817.1 950.1,816.8 951.1,818.4 952.1,817.1 953.1,817.9 954.1,817.1 955.1,818.4 956.1,817.6 957.1,818.8 958.1,818.8 959.1,820.2 960.1,820.6 961.1,822.2 962.1,821.6 963.1,822.5 964.1,821.5 965.1,822.7 966.1,821.5 967.1,822.7 968.1,822.4 969.1,824.2 970.1,823.7 970.4,824.9 971.1,823.6 972.1,824.8 973.1,823.3 974.1,824.6 975.1,823.9 976.1,825.2 977.1,824.0 978.1,824.2 979.1,822.4 980.1,824.2 981.1,823.8 982.1,825.2 983.1,824.4 984.1,825.1 985.1,824.5 986.1,825.6 987.1,824.7 988.1,825.3 989.1,823.7 990.1,824.2 991.1,823.1 992.1,823.5 993.1,822.7 994.1,824.9 995.1,824.4 996.1,825.5 996.4,824.5 997.1,825.6 998.1,824.3 999.1,824.7 1000.1,822.8 1001.1,823.0 1002.1,820.8 1003.1,820.5 1004.1,819.0 1005.1,820.0 1006.1,819.6 1006.6,820.5 1007.1,819.0 1008.1,819.7 1009.1,818.1 1010.1,818.8 1011.1,818.8 1012.1,820.8 1013.1,820.4 1014.1,821.8 1015.1,821.4 1016.1,822.4 1017.1,821.2 1018.1,822.2 1019.1,821.7 1019.6,822.8 1020.1,821.8 1021.1,823.2 1022.1,821.9 1023.1,822.7 1024.1,821.8 1025.1,823.6 1026.1,822.4 1027.1,823.1 1028.1,821.6 1029.1,823.0 1030.1,822.5 1031.1,824.2 1032.1,823.3 1033.1,823.9 1034.1,822.0 1035.1,823.0 1036.1,822.0 1037.1,823.5 1038.1,822.2 1039.1,823.4 1040.1,822.2 1041.1,823.7 1042.1,823.0 1043.1,824.3 1044.1,823.1 1044.2,823.8 1045.1,821.6 1046.1,822.2 1047.1,821.0 1048.1,820.0 1049.1,817.6 1050.0,815.3 1050.1,814.1 1050.5,808.3 1051.1,809.9 1051.7,811.7 1052.1,806.5 1053.1,787.9 1053.2,787.2 1054.1,811.2 1054.5,818.3 1055.1,792.4 1055.5,776.0 1056.1,787.9 1056.9,806.2 1057.1,801.9 1058.1,773.6 1058.1,773.5 1059.1,808.3 1059.4,815.2 1060.1,790.9 1060.5,779.4 1061.1,794.1 1061.6,811.9 1062.1,851.2 1062.6,886.2 1063.1,846.8 1064.0,764.6 1064.1,767.0 1065.1,808.7 1065.2,812.5 1066.1,794.7 1066.7,784.4 1067.1,795.0 1068.0,821.4 1068.1,820.8 1069.1,800.6 1069.2,799.0 1070.1,816.2 1070.6,825.0 1071.1,816.1 1071.7,804.3 1072.1,810.3 1072.9,824.3 1073.1,822.2 1074.1,807.9 1074.3,806.4 1075.1,820.2 1075.7,830.1 1076.1,822.9 1076.8,806.4 1077.1,809.3 1078.1,823.6 1079.1,806.7 1079.3,803.8 1080.1,821.7 1080.5,828.7 1081.1,816.3 1081.6,807.9 1082.1,808.2 1083.1,808.8 1084.1,809.6 1085.1,810.6 1086.1,811.5 1087.1,811.3 1088.1,812.9 1089.1,812.2 1090.1,814.7 1091.1,815.0 1092.0,817.5 1092.1,816.2 1093.1,817.5 1094.1,816.0 1095.1,817.7 1096.1,816.3 1097.1,817.4 1098.1,816.7 1099.1,819.7 1100.1,819.7 1101.1,821.3 1102.1,819.7 1103.1,821.0 1103.6,819.0 1104.1,819.9 1105.1,816.4 1106.1,815.1 1107.1,811.6 1108.1,810.7 1109.1,808.4 1110.1,809.6 1110.8,808.3 1111.1,810.9 1112.1,811.8 1113.1,815.1 1114.1,815.8 1115.1,820.0 1116.1,820.7 1116.6,822.8 1117.1,820.1 1118.1,818.3 1119.1,813.4 1120.1,811.3 1121.1,807.0 1122.1,806.3 1122.4,804.4 1123.1,806.0 1124.1,805.6 1125.1,807.4 1126.1,806.5 1127.1,808.0 1128.1,806.8 1129.1,808.5 1130.1,807.4 1131.1,807.9 1132.1,805.7 1133.1,806.6 1134.1,807.1 1135.1,809.6 1136.1,809.5 1137.1,809.7 1138.1,807.4 1138.3,809.2 1139.1,808.0 1140.1,811.1 1141.1,812.4 1142.1,816.6 1143.1,817.7 1144.1,820.3 1145.1,817.2 1146.1,816.7 1147.1,815.4 1148.1,817.6 1149.1,815.0 1150.1,814.2 1151.1,810.7 1152.1,809.4 1153.1,805.9 1154.1,804.6 1154.3,802.9 1155.1,800.9 1156.1,794.3 1157.1,791.6 1158.1,787.2 1158.6,787.2 1159.1,787.7 1160.1,794.5 1161.1,799.7 1162.1,805.6 1163.0,806.4 1163.1,807.4 1164.1,801.6 1165.1,796.9 1166.1,790.0 1167.1,785.1 1167.3,783.3 1168.1,786.8 1169.1,789.6 1170.1,796.2 1171.1,798.5 1171.6,801.9 1172.1,800.5 1173.1,801.1 1174.1,799.4 1175.1,797.5 1176.1,793.0 1177.1,792.6 1178.1,789.7 1179.1,790.3 1180.1,787.8 1180.3,789.1 1181.1,788.0 1182.1,790.5 1183.1,791.4 1184.1,795.3 1185.1,797.1 1186.1,801.3 1187.1,802.0 1187.6,804.8 1188.1,802.9 1189.1,802.6 1190.1,797.1 1191.1,795.5 1192.1,793.5 1193.1,794.2 1193.4,792.5 1194.1,793.2 1195.1,791.7 1196.1,792.1 1197.1,791.2 1198.1,793.0 1199.1,792.4 1200.1,793.4 1201.1,791.4 1202.1,792.3 1203.1,791.9 1204.1,795.1 1205.1,795.1 1206.1,795.7 1207.1,794.4 1208.1,796.1 1209.1,795.3 1210.1,796.9 1211.1,795.8 1212.1,796.0 1213.1,794.7 1214.1,795.0 1215.1,793.4 1216.1,794.5 1217.1,794.0 1218.1,796.0 1219.1,793.9 1220.1,794.6 1221.1,792.7 1222.1,794.6 1222.3,793.3 1223.1,796.0 1224.1,795.7 1225.1,797.8 1226.1,797.7 1227.1,801.8 1228.1,802.9 1229.1,803.6 1230.1,798.9 1231.1,796.2 1232.1,791.2 1233.1,789.0 1233.9,785.9 1234.1,787.8 1235.1,788.3 1236.1,792.3 1237.1,792.7 1238.1,796.1 1239.1,796.0 1239.7,797.7 1240.1,796.5 1241.1,797.4 1242.1,794.5 1243.1,793.7 1244.1,790.2 1245.1,788.6 1246.1,784.6 1247.1,784.0 1248.1,780.9 1248.4,781.8 1249.1,781.4 1250.1,782.5 1251.1,782.0 1252.1,783.3 1253.1,781.5 1254.1,783.3 1255.1,783.8 1256.1,786.4 1257.1,786.9 1258.1,789.2 1259.1,788.5 1260.0,789.3 1260.1,787.7 1261.1,787.4 1262.1,784.3 1263.1,784.0 1264.1,780.8 1265.1,779.9 1266.1,778.3 1267.1,778.4 1268.1,776.3 1268.7,776.5 1269.1,775.5 1270.1,776.6 1271.1,777.4 1272.1,779.7 1273.1,780.0 1274.1,781.8 1275.1,781.6 1276.1,782.9 1277.1,781.5 1277.4,782.5 1278.1,780.8 1279.1,783.1 1280.1,782.4 1281.1,781.1 1282.1,777.5 1283.1,778.0 1284.1,775.5 1285.1,775.4 1286.1,772.7 1287.1,773.2 1288.1,771.7 1288.9,772.9 1289.1,771.8 1290.1,773.4 1291.1,773.2 1292.1,775.0 1293.1,774.6 1294.1,776.3 1295.1,774.9 1296.1,775.3 1297.1,774.5 1298.1,776.5 1299.1,775.6 1300.0,777.2 1300.1,776.4 1301.1,776.7 1302.1,775.0 1303.1,775.3 1304.1,773.9 1305.1,774.3 1306.1,773.4 1307.1,774.3 1308.1,772.4 1308.7,773.8 1309.1,772.5 1310.1,774.4 1311.1,773.3 1312.1,775.4 1313.1,774.1 1314.1,776.1 1315.1,774.7 1315.4,775.7 1316.1,773.3 1317.1,773.4 1318.1,772.1 1319.1,772.8 1320.1,771.4 1321.1,772.6 1322.1,771.2 1323.1,772.4 1323.2,770.8 1324.1,772.6 1325.1,772.4 1326.1,774.1 1327.1,772.5 1328.1,774.1 1329.0,772.2 1329.1,773.3 1330.1,772.4 1331.1,773.2 1332.1,771.8 1333.1,772.0 1334.1,769.9 1335.1,771.2 1336.1,769.9 1337.1,770.8 1338.1,768.9 1339.1,769.2 1340.1,767.3 1341.1,768.1 1342.1,766.5 1343.1,768.5 1344.1,767.9 1344.4,768.5 1345.1,767.1 1346.1,767.6 1347.1,766.0 1348.1,767.3 1349.1,766.1 1350.1,766.6 1351.1,766.0 1352.1,766.9 1353.1,765.9 1354.1,766.8 1355.1,765.7 1356.1,766.1 1357.1,764.8 1358.1,764.9 1359.1,763.5 1360.1,764.6 1361.1,764.2 1361.8,765.3 1362.1,764.6 1363.1,765.3 1364.1,764.4 1365.1,765.5 1366.1,764.7 1367.1,765.5 1368.1,764.8 1369.1,765.7 1370.1,765.4 1371.1,766.4 1371.4,765.8 1372.1,766.9 1373.1,767.3 1374.1,769.0 1375.1,769.5 1376.1,771.1 1377.1,772.3 1378.1,774.2 1378.2,774.0 1379.1,777.1 1380.1,780.0 1381.1,784.3 1382.1,787.5 1383.0,791.7 1383.1,791.9 1384.1,799.7 1385.1,807.5 1386.1,816.0 1386.9,822.5 1387.1,824.8 1388.1,835.0 1389.1,846.6 1390.1,857.7 1390.7,865.2 1391.1,870.4 1392.1,885.5 1393.1,900.5 1394.1,916.0 1394.6,923.0 1395.1,931.0 1396.1,945.7 1397.1,961.0 1398.1,975.3 1398.5,981.0 1399.1,987.9 1400.1,999.7 1401.1,1010.6 1402.1,1021.5 1402.3,1023.2 1403.1,1030.4 1404.1,1038.8 1405.1,1046.6 1406.1,1051.9 1406.2,1052.6 1407.1,1050.1 1408.1,1047.0 1409.1,1042.6 1410.0,1038.9 1410.1,1038.0 1411.1,1029.5 1412.1,1019.3 1413.1,1009.0 1413.9,1000.3 1414.1,998.2 1415.1,985.7 1416.1,973.5 1417.1,960.5 1417.8,952.0 1418.1,948.0 1419.1,935.3 1420.1,921.9 1421.1,909.6 1421.6,903.6 1422.1,899.5 1423.1,890.8 1424.1,883.2 1425.1,875.6 1425.5,872.9 1426.1,869.3 1427.1,864.3 1428.1,858.9 1429.1,854.5 1429.3,853.4 1430.1,851.4 1431.1,848.6 1432.1,846.4 1433.1,843.8 1434.1,842.0 1435.1,839.8 1436.1,839.1 1437.1,838.2 1438.1,837.7 1439.1,836.8 1440.1,836.5 1440.9,836.1 1441.1,836.3 1442.1,836.8 1443.1,838.1 1444.1,838.8 1445.1,840.0 1446.1,840.6 1447.1,841.8 1447.7,841.9 1448.1,841.7 1449.1,840.4 1450.1,839.3 1451.1,837.4 1452.1,835.9 1453.1,834.0 1454.1,832.9 1454.4,832.1 1455.1,831.6 1456.1,830.4 1457.1,829.5 1458.1,828.0 1459.1,827.3 1460.1,826.0 1461.1,825.3 1462.1,824.4 1462.2,824.6 1463.1,824.3 1464.1,824.5 1465.1,824.3 1466.1,824.6 1467.1,824.4 1468.1,824.7 1469.1,824.5 1470.1,824.7 1470.8,824.4 1471.1,824.3 1472.1,822.3 1473.1,820.5 1474.1,817.8 1475.1,815.4 1476.1,812.7 1477.1,810.5 1477.6,809.2 1478.1,808.6 1479.1,806.8 1480.1,805.6 1481.1,803.8 1482.1,802.6 1483.1,800.9 1484.1,799.4 1485.1,797.7 1485.3,797.6 1486.1,796.3 1487.1,795.0 1488.1,793.2 1489.1,791.8 1490.1,790.0 1491.1,789.0 1492.1,788.0 1493.1,787.5 1494.1,786.6 1495.1,786.1 1496.1,785.1 1497.1,784.7 1498.1,783.8 1499.1,783.3 1500.1,782.5 1500.8,782.3 1501.1,781.8 1502.1,781.4 1503.1,780.5 1504.1,780.1 1505.1,779.0 1506.1,778.5 1507.1,777.7 1508.1,777.5 1509.1,776.7 1510.1,776.5 1510.4,776.1 1511.1,776.3 1512.1,776.0 1513.1,776.4 1514.1,776.2 1515.1,776.5 1516.1,776.2 1516.2,776.5 1517.1,779.4 1518.1,784.7 1519.1,790.2 1520.1,795.6 1521.1,799.5 1522.1,803.8 1523.0,806.1 1523.1,806.0 1524.1,801.6 1525.1,796.2 1525.9,791.7 1526.1,791.0 1527.1,786.0 1528.1,781.5 1529.1,777.1 1529.7,775.4 1530.1,774.8 1531.1,774.1 1532.1,773.1 1533.1,772.8 1533.6,772.3 1534.1,772.9 1535.1,773.6 1536.1,775.1 1537.1,776.3 1538.1,778.2 1539.1,779.6 1539.4,780.4 1540.1,783.2 1541.1,789.1 1542.1,794.9 1543.1,801.2 1544.1,806.5 1544.2,807.2 1545.1,810.2 1546.1,814.1 1547.1,817.1 1548.1,820.6 1549.1,823.2 1550.1,826.3 1551.0,828.4 1551.1,828.8 1552.1,830.2 1553.1,832.0 1554.1,833.1 1555.1,834.3 1555.2,834.2 1556.1,833.0 1557.1,830.8 1558.1,828.8 1559.1,826.0 1559.7,824.8 1560.1,823.4 1561.1,820.5 1562.1,816.9 1563.1,813.8 1564.1,810.4 1565.1,808.0 1565.4,807.0 1566.1,806.4 1567.1,805.0 1568.1,804.3 1569.1,803.2 1569.3,803.4 1570.1,803.8 1571.1,805.2 1572.1,806.3 1573.1,808.0 1574.1,809.0 1575.1,811.7 1576.1,814.3 1577.1,817.8 1578.1,820.4 1579.0,822.9 1579.1,822.7 1580.1,824.3 1581.1,825.3 1582.1,826.7 1583.1,827.5 1584.1,828.8 1585.1,829.5 1585.7,830.4 1586.1,830.8 1587.1,832.2 1588.1,833.4 1589.1,835.0 1590.1,835.8 1591.1,837.3 1592.1,838.0 1593.1,839.1 1593.4,839.0 1594.1,838.7 1595.1,837.2 1596.1,835.9 1597.1,833.8 1598.1,832.4 1599.1,830.4 1599.2,830.5 1600.1,828.7 1601.1,827.2 1602.1,825.2 1603.1,823.6 1604.1,821.6 1605.1,820.3 1606.1,818.6 1607.0,817.9 1607.1,817.7 1608.1,817.5 1609.1,816.7 1610.1,816.6 1611.1,816.0 1612.1,815.9 1613.1,815.3 1614.1,815.1 1614.7,814.7 1615.1,814.9 1616.1,814.3 1617.1,814.1 1618.1,813.4 1619.1,813.0 1620.1,812.4 1621.1,812.4 1622.1,812.0 1622.4,812.1 1623.1,812.1 1624.1,812.6 1625.1,812.8 1626.1,813.7 1627.1,813.9 1628.1,814.9 1629.1,815.2 1630.1,816.0 1631.1,817.8 1632.1,820.3 1633.1,822.6 1634.1,825.6 1635.1,828.1 1635.9,830.4 1636.1,830.8 1637.1,834.2 1638.1,837.2 1639.1,840.8 1640.1,843.8 1641.1,847.3 1642.1,850.4 1643.1,854.2 1644.1,857.3 1645.1,861.0 1646.1,864.1 1647.1,867.7 1647.5,868.9 1648.1,871.3 1649.1,874.5 1650.1,878.3 1651.1,881.6 1652.1,885.4 1653.1,888.8 1654.1,892.6 1655.1,896.1 1656.1,900.1 1657.1,903.7 1658.1,908.3 1659.1,912.9 1660.1,917.6 1661.0,920.9 1661.1,921.3 1662.1,922.7 1663.1,924.5 1664.1,925.6 1665.1,927.2 1666.1,928.2 1667.1,929.6 1668.1,930.2 1668.7,930.9 1669.1,930.6 1670.1,930.7 1671.1,930.3 1672.1,930.4 1673.1,929.8 1674.1,929.8 1675.1,929.3 1676.1,929.3 1677.1,928.8 1678.1,928.9 1678.4,928.8 1679.1,929.6 1680.1,930.1 1681.1,931.4 1682.1,932.3 1683.1,934.1 1684.1,935.3 1685.1,937.1 1686.1,938.4 1687.1,940.3 1688.1,943.1 1689.1,946.8 1690.1,950.3 1691.1,954.4 1692.1,958.1 1693.1,962.4 1694.1,966.0 1695.1,970.8 1696.1,975.1 1697.1,980.0 1698.1,984.5 1699.1,989.6 1700.1,994.0 1701.1,998.8 1701.2,999.0 1702.1,1002.9 1703.1,1006.6 1704.1,1010.7 1705.1,1014.2 1706.1,1018.2 1707.1,1021.3 1708.1,1024.6 1708.3,1024.9 1709.1,1026.6 1710.1,1027.9 1711.1,1029.9 1712.1,1031.0 1713.1,1032.4 1714.1,1033.1 1715.1,1031.3 1716.1,1028.0 1717.1,1024.8 1718.1,1020.8 1718.9,1018.1 1719.1,1016.7 1720.1,1011.2 1721.1,1004.4 1722.1,998.2 1723.1,992.0 1723.6,989.8 1724.1,988.2 1725.1,985.6 1726.1,982.9 1727.1,981.1 1728.1,979.3 1728.3,979.3 1729.1,979.8 1730.1,981.3 1731.1,982.7 1732.1,984.8 1733.0,986.0 1733.1,986.5 1734.1,988.8 1735.1,991.7 1736.1,994.3 1737.1,997.6 1738.1,1000.2 1739.1,1003.5 1740.1,1006.1 1741.1,1009.2 1742.1,1012.0 1743.1,1015.4 1744.1,1018.2 1745.1,1021.1 1745.9,1022.8 1746.1,1023.2 1747.1,1023.7 1748.1,1024.7 1749.1,1025.1 1750.1,1026.0 1750.7,1026.0 1751.1,1026.2 1752.1,1025.9 1753.1,1026.0 1754.1,1025.6 1755.1,1025.8 1756.1,1025.5 1757.1,1025.6 1758.1,1025.1 1759.1,1025.3 1760.1,1024.9 1761.1,1026.2 1762.1,1027.3 1763.1,1029.3 1764.1,1030.9 1765.1,1033.0 1766.0,1034.4 1766.1,1034.8 1767.1,1036.8 1768.1,1039.6 1769.1,1041.8 1770.1,1044.6 1771.1,1046.8 1772.1,1049.4 1773.0,1050.9 1773.1,1051.3 1774.1,1052.0 1775.1,1053.3 1776.1,1054.1 1777.1,1055.2 1778.1,1055.8 1779.1,1056.8 1780.1,1057.2 1781.1,1057.9 1781.3,1057.8 1782.1,1057.3 1783.1,1055.9 1784.1,1054.8 1785.1,1053.0 1786.1,1051.9 1787.1,1050.1 1788.1,1049.1 1788.3,1048.6 1789.1,1048.2 1790.1,1047.2 1791.1,1046.8 1792.1,1045.9 1793.1,1045.7 1794.1,1044.6 1795.1,1044.1 1796.1,1043.0 1796.6,1042.7 1797.1,1041.4 1798.1,1038.7 1799.1,1035.0 1800.1,1031.8 1801.1,1029.0 1801.3,1028.7 1802.1,1028.0 1803.1,1027.8 1804.1,1027.1 1805.1,1027.0 1806.1,1026.3 1807.1,1026.3 1808.1,1025.8 1809.1,1025.7 1810.1,1025.0 1811.1,1024.8 1812.1,1024.3 1813.1,1024.0 1814.1,1022.6 1815.1,1021.5 1816.1,1019.6 1817.1,1018.2 1818.1,1016.3 1819.1,1014.9 1820.1,1012.9 1821.1,1011.3 1821.3,1010.7 1822.1,1008.6 1823.1,1005.1 1824.1,1001.9 1825.1,997.9 1826.1,994.5 1827.1,990.5 1828.1,987.1 1829.1,983.2 1830.1,979.9 1830.7,977.7 1831.1,976.9 1832.1,974.2 1833.1,972.1 1834.1,969.4 1835.1,967.2 1836.1,964.5 1837.1,962.4 1838.1,959.9 1839.1,958.0 1840.1,955.4 1841.1,953.4 1842.1,950.9 1843.1,948.9 1844.1,946.4 1844.8,945.1 1845.1,944.2 1846.1,942.3 1847.1,939.8 1848.1,937.8 1849.1,935.2 1850.1,933.2 1851.1,930.8 1852.1,928.9 1853.1,926.5 1854.1,924.6 1855.1,922.2 1856.1,920.2 1857.1,918.1 1858.1,916.3 1859.0,914.3 1859.1,914.3 1860.1,912.6 1861.1,911.1 1862.1,909.4 1863.1,908.1 1864.1,906.3 1865.1,905.0 1866.1,903.1 1867.1,901.9 1868.1,900.3 1869.1,899.2 1870.1,897.5 1870.8,896.8 1871.1,896.1 1872.1,895.1 1873.1,893.7 1874.1,892.9 1875.1,891.2 1876.1,890.3 1877.1,888.8 1878.1,888.2 1879.1,886.7 1880.1,886.4 1880.2,885.7 1881.1,886.0 1882.1,885.1 1883.1,885.2 1884.1,884.0 1885.1,883.8 1886.1,882.8 1887.1,885.4 1888.1,888.1 1889.1,892.0 1890.1,894.9 1890.8,897.9 1891.1,898.3 1892.1,902.9 1893.1,906.8 1894.1,911.4 1895.1,914.2 1895.5,915.5 1896.1,914.2 1897.1,913.0 1898.1,909.6 1899.1,907.9 1900.1,905.0 1901.1,904.9 1901.4,904.0 1902.1,906.0 1903.1,907.0 1904.1,910.1 1905.1,911.7 1906.1,915.0 1907.1,916.1 1907.3,917.3 1908.1,915.1 1909.1,913.7 1910.1,910.6 1911.1,908.1 1912.1,904.3 1913.1,901.5 1914.1,897.5 1914.3,897.7 1915.1,896.3 1916.1,896.3 1917.1,894.3 1918.1,893.0 1919.1,890.7 1920.1,890.5 1921.1,888.5 1922.1,888.5 1923.1,886.7 1924.1,886.9 1924.9,885.2 1925.1,885.9 1926.1,885.6 1927.1,886.7 1928.1,886.7 1929.1,887.2 1930.1,886.1 1931.1,886.9 1932.1,886.6 1933.1,887.8 1934.1,887.0 1934.3,887.9 1935.1,885.5 1936.1,883.8 1937.1,880.2 1938.1,878.1 1939.0,875.1 1939.1,876.0 1940.1,874.5 1941.1,874.9 1942.1,874.1 1943.1,873.8 1944.1,872.4 1945.1,872.4 1946.1,870.8 1947.1,870.4 1948.1,869.1 1948.5,869.4 1949.1,869.5 1950.1,872.6 1951.1,874.9 1952.1,879.1 1953.1,882.0 1954.1,886.4 1955.1,888.9 1956.1,892.4 1956.7,892.8 1957.1,893.1 1958.1,889.9 1959.1,887.3 1960.1,882.7 1961.1,879.7 1961.4,878.5 1962.1,879.0 1963.1,878.9 1964.1,880.8 1965.1,881.9 1966.1,884.0 1967.1,884.7 1968.1,886.7 1969.1,886.4 1970.1,888.1 1971.1,888.7 1972.0,890.6 1972.1,889.9 1973.1,892.4 1974.1,893.8 1975.1,896.7 1976.1,897.4 1977.1,899.3 1978.1,899.5 1979.1,900.7 1980.1,897.8 1981.0,897.1 1981.1,898.9 1982.1,940.3 1982.6,955.8 1983.1,931.6 1984.1,851.4 1985.1,777.7 1985.4,763.5 1986.1,817.6 1987.1,915.3 1987.4,934.0 1988.1,917.3 1989.1,887.7 1989.4,881.7 1990.1,882.8 1991.1,883.1 1992.1,884.6 1993.1,884.7 1994.1,886.1 1994.4,885.7 1995.1,882.7 1996.1,874.7 1997.1,866.6 1997.9,859.2 1998.1,857.8 1999.1,846.0 2000.1,835.6 2001.1,825.0 2001.5,822.6 2002.1,820.0 2003.1,817.5 2004.1,814.4 2005.1,812.4 2006.1,808.7 2007.1,806.6 2007.3,805.3 2008.1,803.5 2009.1,800.0 2010.1,798.1 2010.9,795.8 2011.1,796.6 2012.1,796.6 2013.1,798.0 2014.1,797.9 2015.1,799.9 2016.1,801.3 2017.1,803.6 2018.1,803.6 2019.1,804.5 2020.1,803.3 2021.1,803.6 2022.1,802.4 2022.6,803.3 2023.1,803.2 2024.1,806.5 2025.1,809.1 2026.1,813.1 2027.1,815.1 2028.1,817.6 2028.5,817.7 2029.1,817.9 2030.1,816.1 2031.1,816.3 2032.1,814.9 2033.1,814.9 2034.1,812.8 2035.1,811.6 2035.6,810.3 2036.1,809.7 2037.1,807.1 2038.1,806.5 2039.1,804.4 2040.1,803.3 2041.1,800.3 2041.5,800.3 2042.1,796.5 2043.1,791.4 2044.1,783.8 2045.1,777.2 2046.1,770.0 2046.2,770.2 2047.1,764.8 2048.1,759.9 2049.1,754.0 2050.1,749.6 2051.1,744.7 2052.1,742.7 2053.1,744.3 2054.1,748.1 2055.1,750.4 2056.1,753.8 2057.1,755.9 2058.0,757.9 2058.1,757.2 2059.1,756.1 2060.1,753.2 2061.1,752.1 2062.1,749.1 2062.7,748.0 2063.1,745.7 2064.1,742.0 2065.1,736.6 2066.1,732.7 2067.1,727.9 2068.1,724.7 2068.6,722.1 2069.1,722.3 2070.1,720.9 2071.1,722.2 2072.1,721.2 2073.1,720.8 2073.3,719.7 2074.1,716.7 2075.1,709.4 2076.1,702.7 2076.8,696.1" fill="none" stroke="#1a6fdf" stroke-width="5.4" stroke-linejoin="round" stroke-linecap="butt"/>
<polyline points="160.1,1058.3 162.6,1058.3 165.1,1058.2 167.6,1058.3 170.1,1058.1 172.6,1058.5 175.1,1058.2 176.1,1058.5 177.6,1058.5 180.1,1059.0 182.6,1059.1 185.1,1060.1 187.6,1060.0 190.1,1061.0 192.6,1061.5 195.1,1061.9 197.6,1062.6 200.1,1063.3 202.1,1063.6 202.6,1063.7 205.1,1063.6 207.6,1063.9 210.1,1063.7 212.6,1064.3 215.1,1064.1 217.6,1064.5 220.1,1064.7 222.6,1064.7 225.1,1064.5 227.6,1064.9 228.2,1064.8 230.1,1064.7 232.6,1063.5 235.1,1062.7 236.9,1061.8 237.6,1062.1 240.1,1062.4 242.6,1062.5 245.1,1062.6 247.6,1063.5 250.1,1063.7 252.6,1064.1 254.3,1063.9 255.1,1064.2 257.6,1064.0 260.1,1063.8 262.6,1063.7 265.1,1063.7 267.6,1063.3 270.1,1063.5 272.6,1063.2 275.1,1063.3 277.4,1063.2 277.6,1063.4 280.1,1063.9 282.6,1064.9 285.1,1065.8 287.6,1066.9 290.1,1067.7 292.6,1068.8 294.8,1069.1 295.1,1069.2 297.6,1068.3 300.1,1067.7 302.6,1066.0 305.1,1065.3 307.6,1064.3 309.3,1064.1 310.1,1063.9 312.6,1064.4 315.1,1064.6 317.6,1064.9 320.1,1065.0 322.6,1065.5 325.1,1065.6 327.6,1066.5 330.1,1066.6 332.6,1067.1 335.1,1067.1 337.6,1067.8 338.2,1067.8 340.1,1068.1 342.6,1068.6 345.1,1069.3 347.6,1069.7 350.1,1070.9 352.6,1071.4 355.1,1072.1 357.6,1072.5 360.1,1073.2 361.4,1073.4 362.6,1074.0 365.1,1074.8 367.6,1075.8 370.1,1076.4 372.6,1077.5 375.1,1078.3 377.6,1079.7 380.1,1080.4 381.7,1081.1 382.6,1081.2 385.1,1082.0 387.6,1082.3 390.1,1083.3 392.6,1084.2 395.1,1085.2 397.6,1085.5 400.1,1086.5 402.6,1087.0 405.1,1087.8 407.6,1088.6 410.1,1089.4 410.6,1089.4 412.6,1090.5 415.1,1091.0 417.6,1092.2 420.1,1092.8 422.6,1093.9 425.1,1094.6 427.6,1095.9 430.1,1096.5 430.9,1096.8 432.6,1097.0 435.1,1098.0 437.6,1098.8 440.1,1099.5 442.6,1100.0 445.1,1100.9 447.6,1100.9 450.1,1101.7 451.2,1101.7 452.6,1101.6 455.1,1101.0 457.6,1100.8 460.1,1100.0 462.6,1099.7 462.8,1099.5 465.1,1100.2 467.6,1100.5 470.1,1101.1 472.6,1101.7 475.1,1102.3 477.2,1102.3 477.6,1102.5 480.1,1102.4 482.6,1102.7 485.1,1102.3 487.6,1102.6 490.1,1102.6 492.6,1102.8 495.1,1102.5 497.6,1102.5 500.1,1102.6 502.6,1102.7 505.1,1102.4 507.6,1102.6 510.1,1102.6 512.6,1102.8 515.1,1102.5 517.6,1102.7 520.1,1102.4 522.6,1102.3 525.1,1102.3 526.5,1102.5 527.6,1102.2 530.1,1102.5 532.6,1102.0 535.1,1102.1 537.6,1101.7 538.1,1101.9 540.1,1101.0 542.6,1100.5 545.1,1099.3 547.6,1098.6 549.7,1098.1 550.1,1098.3 552.6,1098.3 555.1,1098.7 557.6,1098.5 560.1,1098.8 562.6,1098.7 565.1,1099.3 567.6,1099.4 569.9,1099.9 570.1,1099.6 572.6,1099.4 575.1,1099.1 577.6,1099.3 580.1,1099.2 582.6,1099.3 585.1,1098.9 587.6,1098.8 590.1,1098.3 592.6,1098.2 595.1,1097.7 597.6,1097.8 598.9,1097.3 600.1,1097.3 602.6,1097.0 605.1,1096.6 607.6,1096.0 610.1,1095.5 612.6,1094.8 615.1,1094.6 617.6,1093.9 619.2,1093.8 620.1,1093.7 622.6,1093.8 625.1,1093.3 627.6,1093.1 630.1,1092.9 632.6,1093.1 635.1,1092.6 637.6,1092.6 640.1,1092.4 642.3,1092.4 642.6,1092.2 645.1,1092.8 647.6,1092.9 650.1,1093.4 652.6,1093.3 655.1,1094.0 657.6,1094.1 659.7,1094.4 660.1,1094.2 662.6,1094.3 665.1,1094.2 667.6,1094.7 670.1,1094.7 672.6,1094.8 675.1,1094.5 677.6,1094.7 680.1,1094.4 682.6,1094.4 685.1,1094.5 687.6,1094.6 690.1,1094.3 692.6,1094.8 695.1,1094.5 697.3,1094.6 697.6,1094.6 700.1,1096.2 702.6,1098.2 705.1,1100.4 706.0,1100.7 707.6,1102.9 710.1,1105.5 712.6,1108.7 715.1,1111.4 717.6,1113.9 720.1,1116.3 722.6,1118.1 725.1,1119.9 727.6,1122.0 729.2,1122.8 730.1,1123.4 732.6,1125.0 735.1,1126.3 737.6,1127.5 740.1,1129.2 742.6,1130.1 745.1,1131.5 745.9,1131.5 747.6,1130.8 750.1,1129.0 752.6,1127.0 755.1,1124.5 757.6,1123.0 759.0,1122.0 760.1,1121.5 762.6,1120.0 765.1,1119.2 767.6,1118.3 770.1,1118.6 772.6,1118.3 775.1,1118.4 777.6,1118.1 780.1,1118.6 782.6,1118.5 785.0,1118.4 785.1,1118.1 787.6,1116.5 790.1,1114.0 792.6,1111.1 795.1,1108.0 797.6,1105.7 799.5,1104.0 800.1,1104.1 802.6,1103.7 805.1,1103.3 807.6,1103.3 810.1,1102.7 812.6,1102.3 814.0,1102.4 815.1,1102.1 817.6,1102.4 820.1,1101.9 822.6,1101.9 825.1,1101.6 827.6,1101.5 830.1,1101.1 832.6,1100.8 835.1,1100.6 837.2,1100.9 837.6,1100.6 840.1,1100.6 842.6,1100.4 845.1,1100.4 847.6,1100.1 850.1,1100.3 852.6,1100.5 855.1,1100.8 857.6,1100.6 860.1,1100.6 862.6,1100.3 865.1,1100.8 867.6,1100.7 870.1,1100.7 872.6,1100.4 874.8,1100.4 875.1,1100.3 877.6,1100.9 880.1,1101.6 882.6,1102.7 883.5,1102.5 885.1,1102.5 887.6,1102.7 890.1,1103.1 892.6,1102.8 895.1,1103.2 897.6,1103.0 900.1,1103.1 902.6,1103.0 905.1,1103.5 907.6,1103.5 909.6,1103.6 910.1,1103.3 912.6,1102.7 915.1,1102.2 917.6,1101.4 920.1,1100.7 921.1,1100.6 922.6,1100.3 925.1,1100.5 927.6,1100.1 930.1,1100.4 932.6,1100.4 935.1,1100.5 937.6,1100.5 940.1,1100.8 942.6,1100.5 945.1,1100.5 947.6,1100.7 950.1,1100.7 952.6,1100.4 955.1,1100.5 957.6,1100.5 960.1,1100.8 961.7,1100.5 962.6,1100.7 965.1,1100.6 967.6,1101.4 970.1,1101.5 972.6,1102.1 975.1,1102.5 977.6,1103.0 980.1,1103.0 982.0,1103.5 982.6,1103.2 985.1,1103.1 987.6,1102.3 990.1,1101.7 992.6,1101.1 995.1,1100.5 997.6,1099.4 1000.1,1099.3 1002.2,1098.7 1002.6,1099.0 1005.1,1099.3 1007.6,1100.2 1010.1,1100.7 1012.6,1101.7 1015.1,1102.3 1017.6,1103.0 1019.6,1103.2 1020.1,1103.4 1022.6,1103.0 1025.1,1102.8 1027.6,1102.2 1030.1,1102.2 1032.6,1101.6 1035.1,1101.4 1037.6,1101.0 1040.1,1100.8 1042.6,1100.4 1042.8,1100.6 1045.1,1102.1 1047.6,1104.9 1050.1,1107.1 1051.5,1108.3 1052.6,1108.3 1055.1,1108.6 1057.3,1108.4 1057.6,1108.4 1060.1,1106.3 1062.6,1104.3 1065.1,1101.7 1067.6,1099.7 1070.1,1098.1 1070.3,1098.2 1072.6,1100.3 1074.6,1102.3 1075.1,1101.7 1077.5,1098.9 1077.6,1098.7 1080.1,1100.1 1082.6,1100.8 1083.3,1101.1 1085.1,1100.7 1087.6,1101.2 1090.1,1101.0 1092.6,1101.1 1095.1,1100.8 1097.6,1101.1 1097.8,1100.8 1100.1,1100.1 1102.6,1098.4 1105.1,1097.3 1106.5,1096.4 1107.6,1096.5 1110.1,1096.4 1112.6,1096.6 1115.1,1096.0 1117.6,1096.2 1120.1,1095.9 1121.0,1096.1 1122.6,1095.5 1125.1,1094.6 1127.6,1093.3 1130.1,1091.9 1132.6,1091.1 1135.1,1090.6 1137.6,1090.0 1140.1,1089.8 1142.6,1089.2 1145.1,1089.1 1147.0,1088.6 1147.6,1088.9 1150.1,1089.0 1152.6,1090.0 1155.1,1090.6 1157.6,1091.1 1158.6,1090.9 1160.1,1089.8 1162.6,1086.7 1165.1,1083.7 1167.3,1080.7 1167.6,1080.7 1170.1,1078.3 1172.6,1076.6 1175.1,1074.6 1176.0,1074.3 1177.6,1074.7 1180.1,1076.3 1182.6,1077.5 1185.1,1079.4 1187.6,1080.5 1190.1,1082.1 1192.6,1083.0 1193.4,1083.5 1195.1,1083.1 1197.6,1083.0 1200.1,1082.5 1202.6,1082.2 1205.1,1082.0 1207.6,1081.8 1210.1,1081.3 1210.7,1081.4 1212.6,1080.9 1215.1,1080.5 1217.6,1079.4 1220.1,1078.9 1222.3,1078.4 1222.6,1078.6 1225.1,1079.0 1227.6,1080.5 1230.1,1081.2 1232.6,1082.0 1233.9,1082.2 1235.1,1082.0 1237.6,1080.0 1240.1,1077.7 1242.6,1075.2 1245.1,1073.4 1246.9,1072.3 1247.6,1072.5 1250.1,1072.7 1252.6,1073.8 1255.1,1074.2 1257.6,1075.2 1260.1,1075.7 1262.6,1076.3 1262.9,1076.2 1265.1,1075.0 1267.6,1072.5 1270.1,1069.8 1272.6,1066.9 1275.1,1063.8 1277.6,1061.9 1278.8,1061.3 1280.1,1061.1 1282.6,1061.8 1285.1,1062.3 1287.6,1063.3 1290.1,1064.1 1292.6,1064.7 1294.7,1064.8 1295.1,1065.0 1297.6,1064.5 1300.1,1064.3 1302.6,1063.8 1305.1,1063.9 1307.6,1063.6 1310.1,1063.3 1312.6,1062.7 1315.1,1062.7 1317.6,1062.1 1319.3,1061.7 1320.1,1061.3 1322.6,1061.2 1325.1,1060.4 1327.6,1059.9 1330.1,1059.3 1332.6,1059.0 1335.1,1058.1 1337.6,1058.2 1338.6,1057.8 1340.1,1058.1 1342.6,1058.6 1345.1,1059.4 1347.3,1059.7 1347.6,1059.9 1350.1,1059.1 1352.6,1058.6 1355.1,1057.8 1356.0,1057.8 1357.6,1057.7 1360.1,1058.2 1362.6,1058.6 1365.1,1059.8 1365.6,1059.8 1367.6,1061.2 1370.1,1062.3 1372.6,1064.4 1373.4,1064.7 1375.1,1067.0 1377.6,1070.8 1379.2,1073.8 1380.1,1076.6 1382.6,1087.2 1383.0,1088.7 1385.1,1102.8 1386.9,1115.5 1387.6,1121.7 1390.1,1144.6 1390.7,1150.5 1392.6,1170.0 1393.5,1180.0 1395.1,1199.1 1396.5,1216.2 1397.6,1230.9 1399.4,1253.2 1400.1,1256.0 1402.5,1264.1 1402.6,1264.0 1405.1,1269.2 1405.6,1269.6 1407.6,1266.2 1408.5,1263.8 1410.1,1257.1 1411.0,1252.6 1412.6,1240.5 1415.1,1218.7 1415.4,1216.3 1417.6,1198.3 1419.8,1179.9 1420.1,1176.8 1422.6,1152.1 1423.6,1142.9 1425.1,1134.7 1427.4,1123.5 1427.6,1123.2 1430.1,1116.3 1432.2,1112.0 1432.6,1111.3 1435.1,1109.3 1437.6,1107.2 1439.0,1106.5 1440.1,1106.0 1442.6,1105.7 1445.1,1104.9 1447.6,1104.7 1450.1,1104.1 1450.6,1104.1 1452.6,1103.1 1455.1,1102.0 1457.6,1100.5 1458.3,1100.4 1460.1,1099.7 1462.6,1099.0 1465.1,1097.6 1466.0,1097.6 1467.6,1096.4 1470.1,1094.0 1472.6,1091.7 1473.7,1091.1 1475.1,1089.1 1477.6,1086.1 1480.1,1082.7 1481.5,1081.1 1482.6,1080.0 1485.1,1078.3 1487.6,1076.2 1490.1,1074.4 1492.6,1072.4 1493.1,1072.3 1495.1,1071.8 1497.6,1071.3 1500.1,1070.4 1500.8,1070.4 1502.6,1069.6 1505.1,1068.7 1507.6,1067.6 1508.5,1067.5 1510.1,1068.9 1512.4,1072.4 1512.6,1072.4 1515.1,1076.8 1517.2,1080.2 1517.6,1080.7 1520.1,1082.2 1521.6,1083.2 1522.6,1082.4 1525.1,1080.2 1525.9,1079.3 1527.6,1075.8 1530.1,1069.7 1530.7,1068.9 1532.6,1067.0 1534.6,1066.5 1535.1,1066.7 1537.6,1070.0 1538.4,1071.1 1540.1,1076.4 1542.6,1084.8 1543.2,1087.1 1545.1,1093.3 1547.6,1101.2 1548.1,1102.1 1550.1,1105.0 1552.6,1107.0 1552.9,1107.3 1555.1,1106.1 1557.6,1104.5 1557.7,1104.1 1560.1,1099.8 1562.6,1094.0 1563.5,1092.6 1565.1,1090.7 1567.6,1088.3 1569.3,1086.7 1570.1,1087.4 1572.6,1089.2 1574.1,1090.9 1575.1,1091.8 1577.6,1095.3 1580.1,1098.9 1581.9,1101.6 1582.6,1102.1 1585.1,1104.8 1587.6,1106.9 1590.1,1109.3 1591.5,1109.9 1592.6,1109.8 1595.1,1108.6 1597.6,1107.4 1598.3,1106.9 1600.1,1105.4 1602.6,1102.6 1605.1,1100.0 1606.9,1098.4 1607.6,1098.2 1610.1,1096.6 1612.6,1095.5 1614.7,1094.4 1615.1,1094.4 1617.6,1093.6 1620.1,1093.6 1622.4,1092.9 1622.6,1093.1 1625.1,1093.8 1627.6,1095.3 1628.2,1095.5 1630.1,1098.1 1632.6,1101.7 1634.9,1105.4 1635.1,1105.5 1637.6,1111.2 1640.1,1116.9 1642.6,1122.9 1643.6,1125.2 1645.1,1129.2 1647.6,1135.4 1650.1,1142.5 1652.6,1148.8 1653.3,1150.8 1655.1,1155.3 1657.6,1162.1 1660.1,1168.0 1661.0,1170.1 1662.6,1172.4 1665.1,1176.0 1666.8,1177.4 1667.6,1177.8 1670.1,1178.1 1672.6,1178.4 1675.1,1178.3 1677.6,1178.4 1678.4,1178.5 1680.1,1179.7 1682.6,1181.4 1685.1,1183.8 1686.9,1185.4 1687.6,1187.0 1690.1,1192.8 1691.9,1197.6 1692.6,1199.6 1695.1,1207.9 1697.6,1215.8 1699.8,1223.4 1700.1,1224.2 1702.6,1231.9 1705.1,1239.4 1705.7,1241.2 1707.6,1243.9 1710.1,1247.2 1710.7,1247.5 1712.6,1246.1 1715.1,1243.1 1716.6,1241.2 1717.6,1238.3 1720.1,1229.5 1722.5,1221.2 1722.6,1221.2 1725.1,1215.7 1726.5,1213.6 1727.6,1212.3 1730.1,1210.8 1730.5,1210.4 1732.6,1212.6 1735.1,1215.9 1735.4,1216.5 1737.6,1221.1 1740.1,1227.4 1741.3,1230.1 1742.6,1232.2 1745.1,1234.8 1747.3,1237.1 1747.6,1237.0 1750.1,1237.7 1752.6,1237.4 1755.1,1237.6 1757.6,1237.7 1758.2,1238.0 1760.1,1239.2 1762.6,1241.8 1765.1,1244.0 1767.6,1247.4 1770.1,1250.3 1772.6,1253.7 1773.0,1253.8 1775.1,1255.2 1777.6,1256.0 1779.9,1257.0 1780.1,1256.7 1782.6,1255.9 1785.1,1254.9 1786.9,1253.9 1787.6,1253.0 1790.1,1250.6 1792.6,1247.5 1794.8,1245.0 1795.1,1244.4 1797.6,1241.9 1800.1,1238.7 1802.6,1236.2 1802.7,1235.9 1805.1,1234.6 1807.6,1233.0 1810.1,1231.7 1810.6,1231.1 1812.6,1229.6 1815.1,1227.1 1817.6,1224.4 1818.5,1223.1 1820.1,1219.5 1822.6,1212.4 1824.4,1207.4 1825.1,1205.2 1827.6,1198.5 1830.1,1191.5 1832.4,1185.7 1832.6,1185.0 1835.1,1179.7 1837.6,1174.5 1840.1,1169.9 1842.6,1165.0 1844.2,1162.1 1845.1,1160.4 1847.6,1156.3 1850.1,1151.8 1852.6,1147.9 1855.1,1143.7 1856.1,1142.2 1857.6,1139.7 1860.1,1136.8 1862.6,1133.4 1865.1,1130.5 1866.0,1129.1 1867.6,1127.7 1870.1,1125.2 1872.6,1123.1 1874.9,1121.2 1875.1,1121.3 1877.6,1120.4 1880.1,1119.7 1881.8,1119.0 1882.6,1119.8 1885.1,1122.4 1887.6,1125.6 1889.7,1127.9 1890.1,1128.5 1892.6,1130.7 1895.1,1132.8 1897.6,1134.1 1899.6,1135.3 1900.1,1135.0 1902.6,1134.9 1905.1,1134.6 1907.6,1134.3 1910.1,1134.0 1910.5,1134.1 1912.6,1132.1 1915.1,1129.3 1917.6,1126.0 1919.4,1124.1 1920.1,1123.6 1922.6,1123.2 1925.1,1122.4 1927.6,1122.1 1930.1,1121.4 1931.3,1121.4 1932.6,1120.6 1935.1,1119.4 1937.6,1117.3 1940.1,1115.7 1942.6,1114.4 1943.2,1114.4 1945.1,1115.2 1947.6,1117.2 1950.1,1119.0 1951.1,1119.7 1952.6,1119.5 1955.1,1119.2 1957.6,1119.1 1959.0,1119.4 1960.1,1118.1 1962.6,1114.6 1965.1,1109.8 1965.9,1108.6 1967.6,1104.8 1970.1,1099.0 1971.9,1095.4 1972.6,1094.8 1975.1,1091.8 1977.6,1089.1 1980.1,1086.6 1981.8,1085.8 1982.6,1085.5 1985.1,1085.2 1987.6,1085.0 1990.1,1084.9 1992.6,1084.5 1995.1,1084.5 1996.6,1084.2 1997.6,1083.7 2000.1,1080.5 2001.5,1078.8 2002.6,1076.4 2005.1,1070.8 2006.5,1067.8 2007.6,1066.7 2010.1,1064.1 2012.6,1062.1 2014.4,1060.9 2015.1,1061.4 2017.6,1062.7 2020.1,1065.0 2022.3,1066.7 2022.6,1067.2 2025.1,1068.7 2027.6,1070.5 2029.2,1070.9 2030.1,1070.7 2032.6,1069.0 2035.1,1067.8 2036.2,1066.7 2037.6,1064.0 2040.1,1056.7 2042.1,1050.9 2042.6,1049.0 2045.1,1040.5 2046.1,1037.2 2047.6,1034.9 2050.1,1031.3 2052.0,1029.4 2052.6,1028.9 2055.1,1028.1 2057.6,1026.8 2060.1,1025.7 2060.9,1025.1 2062.6,1023.0 2065.1,1018.4 2067.6,1013.7 2067.8,1013.1 2070.1,1007.5 2072.6,1000.0 2072.8,999.7 2075.1,993.5 2075.8,991.9" fill="none" stroke="#37ad6b" stroke-width="5.4" stroke-linejoin="round" stroke-linecap="butt"/>
<line x1="745.1" y1="190.5" x2="745.1" y2="1194" stroke="#000" stroke-width="2" stroke-dasharray="9.6 9.15"/>
<line x1="1405.2" y1="316.25" x2="1405.2" y2="1295.2" stroke="#000" stroke-width="2" stroke-dasharray="9.6 9.15"/>
<line x1="1512.9" y1="218.2" x2="1512.9" y2="1224" stroke="#000" stroke-width="2" stroke-dasharray="9.6 9.15"/>
<line x1="1592.5" y1="186.4" x2="1592.5" y2="1191" stroke="#000" stroke-width="2" stroke-dasharray="9.6 9.15"/>
<line x1="1709.1" y1="283.65" x2="1709.1" y2="1262.4" stroke="#000" stroke-width="2" stroke-dasharray="9.6 9.15"/>
<line x1="745.1" y1="96.3" x2="745.1" y2="147.1" stroke="#000" stroke-width="2"/>
<polygon points="735.1,145.1 755.1,145.1 745.1,185" fill="#000"/>
<line x1="1405.2" y1="229.2" x2="1405.2" y2="280.5" stroke="#000" stroke-width="2"/>
<polygon points="1395.2,278.5 1415.2,278.5 1405.2,317.5" fill="#000"/>
<line x1="1512.9" y1="127" x2="1512.9" y2="176.8" stroke="#000" stroke-width="2"/>
<polygon points="1502.9,174.8 1522.9,174.8 1512.9,213.5" fill="#000"/>
<line x1="1709.1" y1="196.5" x2="1709.1" y2="247.7" stroke="#000" stroke-width="2"/>
<polygon points="1699.1,245.7 1719.1,245.7 1709.1,284" fill="#000"/>
<line x1="1679.4" y1="100.4" x2="1617.9" y2="157.8" stroke="#000" stroke-width="2"/>
<polygon points="1612.5,149.1 1626.1,163.7 1591.9,182" fill="#000"/>
<text x="745.2" y="90.8" font-size="57.5" text-anchor="middle">2920</text>
<text x="1406.9" y="222.6" font-size="57.5" text-anchor="middle">1724</text>
<text x="1512.8" y="120.6" font-size="57.5" text-anchor="middle">1521</text>
<text x="1681.1" y="92.3" font-size="57.5" text-anchor="middle">1379</text>
<text x="1711.9" y="190.7" font-size="57.5" text-anchor="middle">1159</text>
<rect x="157.5" y="36.8" width="1918.9" height="1546.7" fill="none" stroke="#000" stroke-width="5.5"/>
<line x1="157.50" y1="1583.5" x2="157.50" y2="1613" stroke="#000" stroke-width="5.5"/>
<text x="157.50" y="1684.3" font-size="67" text-anchor="middle">4000</text>
<line x1="294.56" y1="1583.5" x2="294.56" y2="1597" stroke="#000" stroke-width="5.5"/>
<line x1="431.63" y1="1583.5" x2="431.63" y2="1613" stroke="#000" stroke-width="5.5"/>
<text x="431.63" y="1684.3" font-size="67" text-anchor="middle">3500</text>
<line x1="568.69" y1="1583.5" x2="568.69" y2="1597" stroke="#000" stroke-width="5.5"/>
<line x1="705.76" y1="1583.5" x2="705.76" y2="1613" stroke="#000" stroke-width="5.5"/>
<text x="705.76" y="1684.3" font-size="67" text-anchor="middle">3000</text>
<line x1="842.82" y1="1583.5" x2="842.82" y2="1597" stroke="#000" stroke-width="5.5"/>
<line x1="979.89" y1="1583.5" x2="979.89" y2="1613" stroke="#000" stroke-width="5.5"/>
<text x="979.89" y="1684.3" font-size="67" text-anchor="middle">2500</text>
<line x1="1116.95" y1="1583.5" x2="1116.95" y2="1597" stroke="#000" stroke-width="5.5"/>
<line x1="1254.01" y1="1583.5" x2="1254.01" y2="1613" stroke="#000" stroke-width="5.5"/>
<text x="1254.01" y="1684.3" font-size="67" text-anchor="middle">2000</text>
<line x1="1391.08" y1="1583.5" x2="1391.08" y2="1597" stroke="#000" stroke-width="5.5"/>
<line x1="1528.14" y1="1583.5" x2="1528.14" y2="1613" stroke="#000" stroke-width="5.5"/>
<text x="1528.14" y="1684.3" font-size="67" text-anchor="middle">1500</text>
<line x1="1665.21" y1="1583.5" x2="1665.21" y2="1597" stroke="#000" stroke-width="5.5"/>
<line x1="1802.27" y1="1583.5" x2="1802.27" y2="1613" stroke="#000" stroke-width="5.5"/>
<text x="1802.27" y="1684.3" font-size="67" text-anchor="middle">1000</text>
<line x1="1939.34" y1="1583.5" x2="1939.34" y2="1597" stroke="#000" stroke-width="5.5"/>
<line x1="2076.40" y1="1583.5" x2="2076.40" y2="1613" stroke="#000" stroke-width="5.5"/>
<text x="2076.40" y="1684.3" font-size="67" text-anchor="middle">500</text>
<text x="766" y="1818.5" font-size="81">Wave number (cm<tspan x="1365.5" y="1787.4" font-size="52" textLength="45.5" lengthAdjust="spacingAndGlyphs">−</tspan><tspan x="1417" y="1787.4" font-size="52">1</tspan><tspan x="1443" y="1818.5">)</tspan></text>
<text transform="translate(91,810) rotate(-90)" font-size="81" text-anchor="middle">Transmittance(%)</text>
<line x1="174.9" y1="1220.1" x2="360.4" y2="1220.1" stroke="#515151" stroke-width="5.5"/>
<text x="371" y="1246.9" font-size="57.9">Coating without UV primer microcapsule</text>
<line x1="174.9" y1="1318.1" x2="360.4" y2="1318.1" stroke="#f14040" stroke-width="5.5"/>
<text x="371" y="1345.5" font-size="57.9">Coating with 2% content of 1# UV primer microcapsules</text>
<line x1="174.9" y1="1417.8" x2="360.4" y2="1417.8" stroke="#1a6fdf" stroke-width="5.5"/>
<text x="371" y="1444.4" font-size="57.9">Coating with 2% content of 2# UV primer microcapsules</text>
<line x1="174.9" y1="1516.2" x2="360.4" y2="1516.2" stroke="#37ad6b" stroke-width="5.5"/>
<text x="371" y="1543.6" font-size="57.9">Coating with 2% content of 3# UV primer microcapsules</text>
</svg></body></html>
